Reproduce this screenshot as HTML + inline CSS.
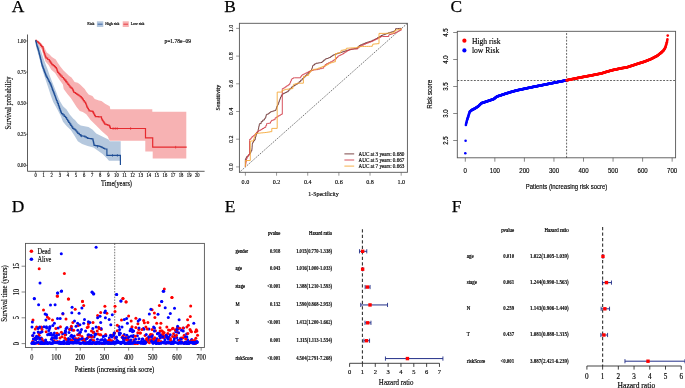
<!DOCTYPE html>
<html><head><meta charset="utf-8"><style>
html,body{margin:0;padding:0;background:#fff;}
svg{display:block;filter:blur(0.3px);}
</style></head><body>
<svg width="685" height="388" viewBox="0 0 685 388">
<rect width="685" height="388" fill="#fff"/>
<text x="11.8" y="11.7" font-family='"Liberation Serif", serif' font-size="17.4" text-anchor="start" fill="#000" stroke="#000" stroke-width="0.25">A</text>
<text x="224.3" y="11.7" font-family='"Liberation Serif", serif' font-size="17.4" text-anchor="start" fill="#000" stroke="#000" stroke-width="0.25">B</text>
<text x="450.6" y="11.9" font-family='"Liberation Serif", serif' font-size="17.4" text-anchor="start" fill="#000" stroke="#000" stroke-width="0.25">C</text>
<text x="11.8" y="212.2" font-family='"Liberation Serif", serif' font-size="17.4" text-anchor="start" fill="#000" stroke="#000" stroke-width="0.25">D</text>
<text x="224.8" y="212.2" font-family='"Liberation Serif", serif' font-size="17.4" text-anchor="start" fill="#000" stroke="#000" stroke-width="0.25">E</text>
<text x="451.8" y="212.2" font-family='"Liberation Serif", serif' font-size="17.4" text-anchor="start" fill="#000" stroke="#000" stroke-width="0.25">F</text>
<polygon points="35.2,40.6 37.7,40.8 41.6,44 44.2,47.2 46.8,52.4 49.3,54.3 51.9,56.9 55.8,59.5 57.7,62.7 60.3,66.6 63.5,70.5 68.7,75.6 70,76.6 71.5,77.4 73.1,79.7 74.6,82.1 77.7,82.8 80.1,84.4 82.4,86.7 84.7,89 86.6,92.1 88.6,94.4 92.4,96 94.7,99.1 99,100.4 101.5,101.1 105.1,103.7 109.7,106.3 110.3,109.2 152.3,109.2 152.3,111.8 186.3,111.8 186.3,158.5 152.7,158.5 152.7,151.4 145.3,151.4 145.3,140.7 109.7,140.7 107.6,136.2 101.9,131.2 96.2,125.6 90.6,119.9 86.3,114.2 82.8,112 79.8,110.9 76.6,107.1 73.4,101.9 70.8,98 67.6,94.2 63.7,89 62.9,84.6 59.6,80.1 57.1,76.2 55.1,73 51.3,69.8 48.7,65.3 45.5,61.4 43.5,55.6 41.6,49.2 36.4,42.7 35.2,41.5" fill="#f7b2b3" stroke="none"/>
<polygon points="35.4,40.8 37.5,42.5 39.5,46.5 41.5,52.5 43.5,58.5 45.5,64 47.5,69 49.5,75 51.4,80 54,86.4 56.6,92.9 58.5,98 60,101.2 63,106.3 66.6,109.4 69.7,114.6 73.4,118.7 75,119.9 77.8,123.5 80.7,125.6 88.5,127 92.7,129.8 96.2,133.4 103.3,136.9 109,139.7 109.7,141.3 120.7,141.3 120.7,160.8 109,160.8 106.9,158.2 102.6,153.9 98.4,151.1 93.4,147.5 87.7,146.1 82.1,144 77.8,141.2 75,136.5 70.8,130 66.6,125.9 63,121.8 60.5,115.6 57.4,109.4 55.5,106 53.2,101.9 50.8,95.5 48.3,87.7 45.7,80 44.4,76 42.9,71.5 41.4,66 39.9,60.5 38.5,55 37,50 35.8,45 35.4,41.8" fill="#b5c8de" stroke="none"/>
<polyline points="35.3,40.4 36.5,40.4 36.5,41.25 37.7,41.25 37.7,42.1 38.7,42.1 38.7,43.05 39.7,43.05 39.7,44 40.65,44 40.65,45.3 41.6,45.3 41.6,46.6 42.9,46.6 42.9,47.9 43.1,47.9 43.1,48.97 43.3,48.97 43.3,50.03 43.5,50.03 43.5,51.1 43.93,51.1 43.93,52.4 44.37,52.4 44.37,53.7 44.8,53.7 44.8,55 45.23,55 45.23,56.07 45.67,56.07 45.67,57.13 46.1,57.13 46.1,58.2 47.7,58.2 47.7,59.5 49.3,59.5 49.3,60.8 50.17,60.8 50.17,62.07 51.03,62.07 51.03,63.33 51.9,63.33 51.9,64.6 53.2,64.6 53.2,65.6 54.5,65.6 54.5,66.6 55.45,66.6 55.45,67.55 56.4,67.55 56.4,68.5 56.83,68.5 56.83,69.8 57.27,69.8 57.27,71.1 57.7,71.1 57.7,72.4 58.77,72.4 58.77,73.67 59.83,73.67 59.83,74.93 60.9,74.93 60.9,76.2 62.2,76.2 62.2,77.5 63.5,77.5 63.5,78.8 64.63,78.8 64.63,80.2 65.77,80.2 65.77,81.6 66.9,81.6 66.9,83 67.93,83 67.93,84.37 68.97,84.37 68.97,85.73 70,85.73 70,87.1 71.15,87.1 71.15,88.05 72.3,88.05 72.3,89 72.83,89 72.83,90.17 73.37,90.17 73.37,91.33 73.9,91.33 73.9,92.5 75.4,92.5 75.4,93.3 76.55,93.3 76.55,94.05 77.7,94.05 77.7,94.8 78.9,94.8 78.9,95.75 80.1,95.75 80.1,96.7 81.25,96.7 81.25,97.9 82.4,97.9 82.4,99.1 83.35,99.1 83.35,100.55 84.3,100.55 84.3,102 85,102 85,102.2 85.53,102.2 85.53,103.47 86.05,103.47 86.05,104.75 86.57,104.75 86.57,106.03 87.1,106.03 87.1,107.3 87.77,107.3 87.77,108.5 88.43,108.5 88.43,109.7 89.1,109.7 89.1,110.9 90.65,110.9 90.65,111.15 92.2,111.15 92.2,111.4 92.97,111.4 92.97,112.7 93.75,112.7 93.75,114 94.53,114 94.53,115.3 95.3,115.3 95.3,116.6 96.85,116.6 96.85,116.72 98.4,116.72 98.4,116.85 99.95,116.85 99.95,116.97 101.5,116.97 101.5,117.1 101.5,119 102.3,119 102.3,120.3 103.1,120.3 103.1,121.6 103.9,121.6 103.9,122.9 104.7,122.9 104.7,124.2 106.13,124.2 106.13,124.67 107.57,124.67 107.57,125.13 109,125.13 109,125.6 109.7,125.6 109.7,127.05 110.4,127.05 110.4,128.5 145.5,128.5 145.5,137.8 152.7,137.8 152.7,147.2 186.7,147.2" fill="none" stroke="#e62a2f" stroke-width="1.2" stroke-linejoin="miter"/>
<polyline points="35.4,40.6 35.8,40.6 35.8,41.4 36.12,41.4 36.12,42.7 36.45,42.7 36.45,44 36.77,44 36.77,45.3 37.1,45.3 37.1,46.6 37.53,46.6 37.53,47.9 37.97,47.9 37.97,49.2 38.4,49.2 38.4,50.5 38.73,50.5 38.73,51.77 39.05,51.77 39.05,53.05 39.38,53.05 39.38,54.33 39.7,54.33 39.7,55.6 40.03,55.6 40.03,56.9 40.35,56.9 40.35,58.2 40.67,58.2 40.67,59.5 41,59.5 41,60.8 41.3,60.8 41.3,62.08 41.6,62.08 41.6,63.35 41.9,63.35 41.9,64.62 42.2,64.62 42.2,65.9 42.7,65.9 42.7,67.2 43.2,67.2 43.2,68.5 43.7,68.5 43.7,69.8 44.2,69.8 44.2,71.1 44.68,71.1 44.68,72.38 45.15,72.38 45.15,73.65 45.62,73.65 45.62,74.92 46.1,74.92 46.1,76.2 46.8,76.2 46.8,77.47 47.5,77.47 47.5,78.73 48.2,78.73 48.2,80 48.85,80 48.85,81.3 49.5,81.3 49.5,82.6 50.15,82.6 50.15,83.9 50.8,83.9 50.8,85.2 51.27,85.2 51.27,86.47 51.75,86.47 51.75,87.75 52.23,87.75 52.23,89.03 52.7,89.03 52.7,90.3 53.2,90.3 53.2,91.6 53.7,91.6 53.7,92.9 54.2,92.9 54.2,94.2 54.7,94.2 54.7,95.5 55.15,95.5 55.15,96.75 55.6,96.75 55.6,98 56.05,98 56.05,99.25 56.5,99.25 56.5,100.5 57.13,100.5 57.13,102.1 57.77,102.1 57.77,103.7 58.4,103.7 58.4,105.3 58.93,105.3 58.93,106.87 59.47,106.87 59.47,108.43 60,108.43 60,110 60.5,110 60.5,111.2 61,111.2 61,112.4 61.5,112.4 61.5,113.6 62.87,113.6 62.87,114.97 64.23,114.97 64.23,116.33 65.6,116.33 65.6,117.7 66.62,117.7 66.62,119.25 67.65,119.25 67.65,120.8 68.67,120.8 68.67,122.35 69.7,122.35 69.7,123.9 70.7,123.9 70.7,125.37 71.7,125.37 71.7,126.83 72.7,126.83 72.7,128.3 73.85,128.3 73.85,129.05 75,129.05 75,129.8 75.93,129.8 75.93,131 76.87,131 76.87,132.2 77.8,132.2 77.8,133.4 79.25,133.4 79.25,134.6 80.7,134.6 80.7,135.8 82.1,135.8 82.1,136 83.5,136 83.5,136.2 84.9,136.2 84.9,136.9 86.3,136.9 86.3,137.6 87.7,137.6 87.7,138.3 88.95,138.3 88.95,138.48 90.2,138.48 90.2,138.65 91.45,138.65 91.45,138.82 92.7,138.82 92.7,139 92.98,139 92.98,140.28 93.26,140.28 93.26,141.56 93.54,141.56 93.54,142.84 93.82,142.84 93.82,144.12 94.1,144.12 94.1,145.4 95.52,145.4 95.52,145.68 96.95,145.68 96.95,145.95 98.38,145.95 98.38,146.22 99.8,146.22 99.8,146.5 101.03,146.5 101.03,147.12 102.25,147.12 102.25,147.75 103.47,147.75 103.47,148.38 104.7,148.38 104.7,149 106.9,149 106.9,155.4 120.4,155.4 120.4,165" fill="none" stroke="#1f4e96" stroke-width="1.2" stroke-linejoin="miter"/>
<line x1="112.5" y1="154.1" x2="112.5" y2="156.7" stroke="#1f4e96" stroke-width="0.7"/>
<line x1="117.4" y1="154.1" x2="117.4" y2="156.7" stroke="#1f4e96" stroke-width="0.7"/>
<line x1="81.5" y1="134.6" x2="81.5" y2="137.2" stroke="#1f4e96" stroke-width="0.7"/>
<line x1="97.5" y1="145.2" x2="97.5" y2="147.8" stroke="#1f4e96" stroke-width="0.7"/>
<line x1="113.1" y1="127.2" x2="113.1" y2="129.8" stroke="#e62a2f" stroke-width="0.7"/>
<line x1="115.2" y1="127.2" x2="115.2" y2="129.8" stroke="#e62a2f" stroke-width="0.7"/>
<line x1="117.2" y1="127.2" x2="117.2" y2="129.8" stroke="#e62a2f" stroke-width="0.7"/>
<line x1="130.6" y1="127.2" x2="130.6" y2="129.8" stroke="#e62a2f" stroke-width="0.7"/>
<line x1="175.6" y1="145.9" x2="175.6" y2="148.5" stroke="#e62a2f" stroke-width="0.7"/>
<line x1="66" y1="79.7" x2="66" y2="82.3" stroke="#e62a2f" stroke-width="0.7"/>
<line x1="93.5" y1="111.2" x2="93.5" y2="113.8" stroke="#e62a2f" stroke-width="0.7"/>
<line x1="27.5" y1="34.5" x2="27.5" y2="171.3" stroke="#333" stroke-width="0.8"/>
<line x1="27.5" y1="171.3" x2="204.6" y2="171.3" stroke="#333" stroke-width="0.8"/>
<line x1="26" y1="40.95" x2="27.5" y2="40.95" stroke="#222" stroke-width="0.6"/>
<text x="0" y="0" transform="translate(25.7 42.75) scale(0.86 1)" font-family='"Liberation Serif", serif' font-size="5.4" text-anchor="end" fill="#000" stroke="#000" stroke-width="0.15">1.00</text>
<line x1="26" y1="72.05" x2="27.5" y2="72.05" stroke="#222" stroke-width="0.6"/>
<text x="0" y="0" transform="translate(25.7 73.85) scale(0.86 1)" font-family='"Liberation Serif", serif' font-size="5.4" text-anchor="end" fill="#000" stroke="#000" stroke-width="0.15">0.75</text>
<line x1="26" y1="103.15" x2="27.5" y2="103.15" stroke="#222" stroke-width="0.6"/>
<text x="0" y="0" transform="translate(25.7 104.95) scale(0.86 1)" font-family='"Liberation Serif", serif' font-size="5.4" text-anchor="end" fill="#000" stroke="#000" stroke-width="0.15">0.50</text>
<line x1="26" y1="134.25" x2="27.5" y2="134.25" stroke="#222" stroke-width="0.6"/>
<text x="0" y="0" transform="translate(25.7 136.05) scale(0.86 1)" font-family='"Liberation Serif", serif' font-size="5.4" text-anchor="end" fill="#000" stroke="#000" stroke-width="0.15">0.25</text>
<line x1="26" y1="165.35" x2="27.5" y2="165.35" stroke="#222" stroke-width="0.6"/>
<text x="0" y="0" transform="translate(25.7 167.15) scale(0.86 1)" font-family='"Liberation Serif", serif' font-size="5.4" text-anchor="end" fill="#000" stroke="#000" stroke-width="0.15">0.00</text>
<line x1="35.6" y1="171.3" x2="35.6" y2="172.9" stroke="#222" stroke-width="0.6"/>
<text x="0" y="0" transform="translate(35.6 177.1) scale(0.86 1)" font-family='"Liberation Serif", serif' font-size="5.4" text-anchor="middle" fill="#000" stroke="#000" stroke-width="0.15">0</text>
<line x1="43.68" y1="171.3" x2="43.68" y2="172.9" stroke="#222" stroke-width="0.6"/>
<text x="0" y="0" transform="translate(43.68 177.1) scale(0.86 1)" font-family='"Liberation Serif", serif' font-size="5.4" text-anchor="middle" fill="#000" stroke="#000" stroke-width="0.15">1</text>
<line x1="51.76" y1="171.3" x2="51.76" y2="172.9" stroke="#222" stroke-width="0.6"/>
<text x="0" y="0" transform="translate(51.76 177.1) scale(0.86 1)" font-family='"Liberation Serif", serif' font-size="5.4" text-anchor="middle" fill="#000" stroke="#000" stroke-width="0.15">2</text>
<line x1="59.84" y1="171.3" x2="59.84" y2="172.9" stroke="#222" stroke-width="0.6"/>
<text x="0" y="0" transform="translate(59.84 177.1) scale(0.86 1)" font-family='"Liberation Serif", serif' font-size="5.4" text-anchor="middle" fill="#000" stroke="#000" stroke-width="0.15">3</text>
<line x1="67.92" y1="171.3" x2="67.92" y2="172.9" stroke="#222" stroke-width="0.6"/>
<text x="0" y="0" transform="translate(67.92 177.1) scale(0.86 1)" font-family='"Liberation Serif", serif' font-size="5.4" text-anchor="middle" fill="#000" stroke="#000" stroke-width="0.15">4</text>
<line x1="76" y1="171.3" x2="76" y2="172.9" stroke="#222" stroke-width="0.6"/>
<text x="0" y="0" transform="translate(76 177.1) scale(0.86 1)" font-family='"Liberation Serif", serif' font-size="5.4" text-anchor="middle" fill="#000" stroke="#000" stroke-width="0.15">5</text>
<line x1="84.08" y1="171.3" x2="84.08" y2="172.9" stroke="#222" stroke-width="0.6"/>
<text x="0" y="0" transform="translate(84.08 177.1) scale(0.86 1)" font-family='"Liberation Serif", serif' font-size="5.4" text-anchor="middle" fill="#000" stroke="#000" stroke-width="0.15">6</text>
<line x1="92.16" y1="171.3" x2="92.16" y2="172.9" stroke="#222" stroke-width="0.6"/>
<text x="0" y="0" transform="translate(92.16 177.1) scale(0.86 1)" font-family='"Liberation Serif", serif' font-size="5.4" text-anchor="middle" fill="#000" stroke="#000" stroke-width="0.15">7</text>
<line x1="100.24" y1="171.3" x2="100.24" y2="172.9" stroke="#222" stroke-width="0.6"/>
<text x="0" y="0" transform="translate(100.24 177.1) scale(0.86 1)" font-family='"Liberation Serif", serif' font-size="5.4" text-anchor="middle" fill="#000" stroke="#000" stroke-width="0.15">8</text>
<line x1="108.32" y1="171.3" x2="108.32" y2="172.9" stroke="#222" stroke-width="0.6"/>
<text x="0" y="0" transform="translate(108.32 177.1) scale(0.86 1)" font-family='"Liberation Serif", serif' font-size="5.4" text-anchor="middle" fill="#000" stroke="#000" stroke-width="0.15">9</text>
<line x1="116.4" y1="171.3" x2="116.4" y2="172.9" stroke="#222" stroke-width="0.6"/>
<text x="0" y="0" transform="translate(116.4 177.1) scale(0.86 1)" font-family='"Liberation Serif", serif' font-size="5.4" text-anchor="middle" fill="#000" stroke="#000" stroke-width="0.15">10</text>
<line x1="124.48" y1="171.3" x2="124.48" y2="172.9" stroke="#222" stroke-width="0.6"/>
<text x="0" y="0" transform="translate(124.48 177.1) scale(0.86 1)" font-family='"Liberation Serif", serif' font-size="5.4" text-anchor="middle" fill="#000" stroke="#000" stroke-width="0.15">11</text>
<line x1="132.56" y1="171.3" x2="132.56" y2="172.9" stroke="#222" stroke-width="0.6"/>
<text x="0" y="0" transform="translate(132.56 177.1) scale(0.86 1)" font-family='"Liberation Serif", serif' font-size="5.4" text-anchor="middle" fill="#000" stroke="#000" stroke-width="0.15">12</text>
<line x1="140.64" y1="171.3" x2="140.64" y2="172.9" stroke="#222" stroke-width="0.6"/>
<text x="0" y="0" transform="translate(140.64 177.1) scale(0.86 1)" font-family='"Liberation Serif", serif' font-size="5.4" text-anchor="middle" fill="#000" stroke="#000" stroke-width="0.15">13</text>
<line x1="148.72" y1="171.3" x2="148.72" y2="172.9" stroke="#222" stroke-width="0.6"/>
<text x="0" y="0" transform="translate(148.72 177.1) scale(0.86 1)" font-family='"Liberation Serif", serif' font-size="5.4" text-anchor="middle" fill="#000" stroke="#000" stroke-width="0.15">14</text>
<line x1="156.8" y1="171.3" x2="156.8" y2="172.9" stroke="#222" stroke-width="0.6"/>
<text x="0" y="0" transform="translate(156.8 177.1) scale(0.86 1)" font-family='"Liberation Serif", serif' font-size="5.4" text-anchor="middle" fill="#000" stroke="#000" stroke-width="0.15">15</text>
<line x1="164.88" y1="171.3" x2="164.88" y2="172.9" stroke="#222" stroke-width="0.6"/>
<text x="0" y="0" transform="translate(164.88 177.1) scale(0.86 1)" font-family='"Liberation Serif", serif' font-size="5.4" text-anchor="middle" fill="#000" stroke="#000" stroke-width="0.15">16</text>
<line x1="172.96" y1="171.3" x2="172.96" y2="172.9" stroke="#222" stroke-width="0.6"/>
<text x="0" y="0" transform="translate(172.96 177.1) scale(0.86 1)" font-family='"Liberation Serif", serif' font-size="5.4" text-anchor="middle" fill="#000" stroke="#000" stroke-width="0.15">17</text>
<line x1="181.04" y1="171.3" x2="181.04" y2="172.9" stroke="#222" stroke-width="0.6"/>
<text x="0" y="0" transform="translate(181.04 177.1) scale(0.86 1)" font-family='"Liberation Serif", serif' font-size="5.4" text-anchor="middle" fill="#000" stroke="#000" stroke-width="0.15">18</text>
<line x1="189.12" y1="171.3" x2="189.12" y2="172.9" stroke="#222" stroke-width="0.6"/>
<text x="0" y="0" transform="translate(189.12 177.1) scale(0.86 1)" font-family='"Liberation Serif", serif' font-size="5.4" text-anchor="middle" fill="#000" stroke="#000" stroke-width="0.15">19</text>
<line x1="197.2" y1="171.3" x2="197.2" y2="172.9" stroke="#222" stroke-width="0.6"/>
<text x="0" y="0" transform="translate(197.2 177.1) scale(0.86 1)" font-family='"Liberation Serif", serif' font-size="5.4" text-anchor="middle" fill="#000" stroke="#000" stroke-width="0.15">20</text>
<text x="0" y="0" transform="translate(11.3 103) rotate(-90) scale(0.8197 1)" font-family='"Liberation Serif", serif' font-size="8.052" text-anchor="middle" fill="#000" stroke="#000" stroke-width="0.15">Survival probability</text>
<text x="0" y="0" transform="translate(116.5 186.4) scale(0.8475 1)" font-family='"Liberation Serif", serif' font-size="7.552" text-anchor="middle" fill="#000" stroke="#000" stroke-width="0.15">Time(years)</text>
<text x="164.5" y="43" font-family='"Liberation Serif", serif' font-size="5.5" text-anchor="start" fill="#000" stroke="#000" stroke-width="0.15">p=1.78e&#8722;09</text>
<text x="87.3" y="25.4" font-family='"Liberation Serif", serif' font-size="3.9" text-anchor="start" fill="#000" stroke="#000" stroke-width="0.15">Risk</text>
<rect x="96.9" y="21.3" width="6.4" height="5.7" fill="#b5c8de" stroke="none" stroke-width="1"/>
<line x1="97.6" y1="24.2" x2="102.6" y2="24.2" stroke="#1f4e96" stroke-width="0.8"/>
<text x="105.2" y="25.4" font-family='"Liberation Serif", serif' font-size="3.8" text-anchor="start" fill="#000" stroke="#000" stroke-width="0.15">High risk</text>
<rect x="122.7" y="21.3" width="6.1" height="5.7" fill="#f7b2b3" stroke="none" stroke-width="1"/>
<line x1="123.4" y1="24.2" x2="128.1" y2="24.2" stroke="#e31e24" stroke-width="0.8"/>
<text x="130.8" y="25.4" font-family='"Liberation Serif", serif' font-size="3.8" text-anchor="start" fill="#000" stroke="#000" stroke-width="0.15">Low risk</text>
<rect x="239.4" y="23.3" width="168" height="149" fill="none" stroke="#555" stroke-width="0.9"/>
<line x1="239.4" y1="172.3" x2="407.4" y2="23.3" stroke="#333" stroke-width="0.7" stroke-dasharray="1.4,1.1"/>
<line x1="236.1" y1="166.9" x2="239.4" y2="166.9" stroke="#555" stroke-width="0.6"/>
<text x="0" y="0" transform="translate(232.7 166.9) rotate(-90) scale(0.8929 1)" font-family='"Liberation Serif", serif' font-size="6.832" text-anchor="middle" fill="#000" stroke="#000" stroke-width="0.15">0.0</text>
<line x1="245.4" y1="172.3" x2="245.4" y2="175.7" stroke="#555" stroke-width="0.6"/>
<text x="0" y="0" transform="translate(245.4 184) scale(0.8929 1)" font-family='"Liberation Serif", serif' font-size="6.832" text-anchor="middle" fill="#000" stroke="#000" stroke-width="0.15">0.0</text>
<line x1="236.1" y1="139.2" x2="239.4" y2="139.2" stroke="#555" stroke-width="0.6"/>
<text x="0" y="0" transform="translate(232.7 139.2) rotate(-90) scale(0.8929 1)" font-family='"Liberation Serif", serif' font-size="6.832" text-anchor="middle" fill="#000" stroke="#000" stroke-width="0.15">0.2</text>
<line x1="276.56" y1="172.3" x2="276.56" y2="175.7" stroke="#555" stroke-width="0.6"/>
<text x="0" y="0" transform="translate(276.56 184) scale(0.8929 1)" font-family='"Liberation Serif", serif' font-size="6.832" text-anchor="middle" fill="#000" stroke="#000" stroke-width="0.15">0.2</text>
<line x1="236.1" y1="111.5" x2="239.4" y2="111.5" stroke="#555" stroke-width="0.6"/>
<text x="0" y="0" transform="translate(232.7 111.5) rotate(-90) scale(0.8929 1)" font-family='"Liberation Serif", serif' font-size="6.832" text-anchor="middle" fill="#000" stroke="#000" stroke-width="0.15">0.4</text>
<line x1="307.72" y1="172.3" x2="307.72" y2="175.7" stroke="#555" stroke-width="0.6"/>
<text x="0" y="0" transform="translate(307.72 184) scale(0.8929 1)" font-family='"Liberation Serif", serif' font-size="6.832" text-anchor="middle" fill="#000" stroke="#000" stroke-width="0.15">0.4</text>
<line x1="236.1" y1="83.8" x2="239.4" y2="83.8" stroke="#555" stroke-width="0.6"/>
<text x="0" y="0" transform="translate(232.7 83.8) rotate(-90) scale(0.8929 1)" font-family='"Liberation Serif", serif' font-size="6.832" text-anchor="middle" fill="#000" stroke="#000" stroke-width="0.15">0.6</text>
<line x1="338.88" y1="172.3" x2="338.88" y2="175.7" stroke="#555" stroke-width="0.6"/>
<text x="0" y="0" transform="translate(338.88 184) scale(0.8929 1)" font-family='"Liberation Serif", serif' font-size="6.832" text-anchor="middle" fill="#000" stroke="#000" stroke-width="0.15">0.6</text>
<line x1="236.1" y1="56.1" x2="239.4" y2="56.1" stroke="#555" stroke-width="0.6"/>
<text x="0" y="0" transform="translate(232.7 56.1) rotate(-90) scale(0.8929 1)" font-family='"Liberation Serif", serif' font-size="6.832" text-anchor="middle" fill="#000" stroke="#000" stroke-width="0.15">0.8</text>
<line x1="370.04" y1="172.3" x2="370.04" y2="175.7" stroke="#555" stroke-width="0.6"/>
<text x="0" y="0" transform="translate(370.04 184) scale(0.8929 1)" font-family='"Liberation Serif", serif' font-size="6.832" text-anchor="middle" fill="#000" stroke="#000" stroke-width="0.15">0.8</text>
<line x1="236.1" y1="28.4" x2="239.4" y2="28.4" stroke="#555" stroke-width="0.6"/>
<text x="0" y="0" transform="translate(232.7 28.4) rotate(-90) scale(0.8929 1)" font-family='"Liberation Serif", serif' font-size="6.832" text-anchor="middle" fill="#000" stroke="#000" stroke-width="0.15">1.0</text>
<line x1="401.2" y1="172.3" x2="401.2" y2="175.7" stroke="#555" stroke-width="0.6"/>
<text x="0" y="0" transform="translate(401.2 184) scale(0.8929 1)" font-family='"Liberation Serif", serif' font-size="6.832" text-anchor="middle" fill="#000" stroke="#000" stroke-width="0.15">1.0</text>
<text x="323.5" y="196.2" font-family='"Liberation Serif", serif' font-size="5.9" text-anchor="middle" fill="#000" stroke="#000" stroke-width="0.15">1-Specificity</text>
<text x="220.3" y="97.6" font-family='"Liberation Serif", serif' font-size="6.0" text-anchor="middle" fill="#000" stroke="#000" stroke-width="0.15" transform="rotate(-90 220.3 97.6)">Sensitivity</text>
<polyline points="245.4,166.9 245.4,160.5 245.4,159.15 245.95,159.15 245.95,157.8 246.5,157.8 246.5,156.7 248.1,156.7 248.1,155.35 249.2,155.35 249.2,154 250.3,154 250.3,152.35 251.1,152.35 251.1,150.7 251.9,150.7 251.9,149.07 252.03,149.07 252.03,147.45 252.15,147.45 252.15,145.82 252.28,145.82 252.28,144.2 252.4,144.2 252.4,143.15 252.95,143.15 252.95,142.1 253.5,142.1 253.5,141 254.35,141 254.35,139.9 255.2,139.9 255.2,138.47 255.53,138.47 255.53,137.03 255.87,137.03 255.87,135.6 256.2,135.6 256.2,133.95 257.05,133.95 257.05,132.3 257.9,132.3 257.9,130.7 258.23,130.7 258.23,129.1 258.57,129.1 258.57,127.5 258.9,127.5 258.9,125.9 259.25,125.9 259.25,124.3 259.6,124.3 259.6,123.6 261.2,123.6 261.2,121.6 262.7,121.6 262.7,120.1 264.3,120.1 264.3,118.95 265.05,118.95 265.05,117.8 265.8,117.8 265.8,116.25 266.2,116.25 266.2,114.7 266.6,114.7 266.6,114.3 267.75,114.3 267.75,113.9 268.9,113.9 268.9,112.95 270.05,112.95 270.05,112 271.2,112 271.2,111.6 272.4,111.6 272.4,111.2 273.6,111.2 273.6,110.8 274.75,110.8 274.75,110.4 275.9,110.4 275.9,109.25 276.3,109.25 276.3,108.1 276.7,108.1 276.7,106.55 277.45,106.55 277.45,105 278.2,105 278.2,103.4 278.77,103.4 278.77,101.8 279.35,101.8 279.35,100.2 279.93,100.2 279.93,98.6 280.5,98.6 280.5,97.05 281.3,97.05 281.3,95.5 282.1,95.5 282.1,94 283.6,94 283.6,93.23 285.17,93.23 285.17,92.47 286.73,92.47 286.73,91.7 288.3,91.7 288.3,90.13 289.83,90.13 289.83,88.57 291.37,88.57 291.37,87 292.9,87 292.9,86.05 294.45,86.05 294.45,85.1 296,85.1 296,84.15 297.55,84.15 297.55,83.2 299.1,83.2 299.1,81.65 300.65,81.65 300.65,80.1 302.2,80.1 302.2,78.57 303.73,78.57 303.73,77.03 305.27,77.03 305.27,75.5 306.8,75.5 306.8,73.93 308.37,73.93 308.37,72.37 309.93,72.37 309.93,70.8 311.5,70.8 311.5,69.27 312,69.27 312,67.73 312.5,67.73 312.5,66.2 313,66.2 313,65.05 314.55,65.05 314.55,63.9 316.1,63.9 316.1,63.2 318,63.2 318,62.97 319.4,62.97 319.4,62.73 320.8,62.73 320.8,62.5 322.2,62.5 322.2,61.33 323.63,61.33 323.63,60.17 325.07,60.17 325.07,59 326.5,59 326.5,58.5 327.9,58.5 327.9,58 329.3,58 329.3,57.5 330.7,57.5 330.7,56.45 332.15,56.45 332.15,55.4 333.6,55.4 333.6,54.7 335.47,54.7 335.47,54 337.33,54 337.33,53.3 339.2,53.3 339.2,52.83 340.63,52.83 340.63,52.37 342.07,52.37 342.07,51.9 343.5,51.9 343.5,51.35 345.27,51.35 345.27,50.8 347.05,50.8 347.05,50.25 348.83,50.25 348.83,49.7 350.6,49.7 350.6,49.35 352.38,49.35 352.38,49 354.15,49 354.15,48.65 355.93,48.65 355.93,48.3 357.7,48.3 357.7,46.9 359.1,46.9 359.1,45.5 360.5,45.5 360.5,44.8 362.18,44.8 362.18,44.1 363.85,44.1 363.85,43.4 365.52,43.4 365.52,42.7 367.2,42.7 367.2,42.17 368.9,42.17 368.9,41.63 370.6,41.63 370.6,41.1 372.3,41.1 372.3,40.27 374.03,40.27 374.03,39.43 375.77,39.43 375.77,38.6 377.5,38.6 377.5,37.57 379.2,37.57 379.2,36.53 380.9,36.53 380.9,35.5 382.6,35.5 382.6,34.85 384.4,34.85 384.4,34.2 386.2,34.2 386.2,33.55 388,33.55 388,32.9 389.8,32.9 389.8,32.37 391.53,32.37 391.53,31.83 393.27,31.83 393.27,31.3 395,31.3 395,30.05 395.5,30.05 395.5,28.8 396,28.8 396,28.67 397.73,28.67 397.73,28.53 399.47,28.53 399.47,28.4 401.2,28.4" fill="none" stroke="#6e3333" stroke-width="0.9" stroke-linejoin="miter"/>
<polyline points="245.4,166.9 245.4,165.3 245.68,165.3 245.68,163.7 245.95,163.7 245.95,162.1 246.22,162.1 246.22,160.5 246.5,160.5 246.5,158.85 247.05,158.85 247.05,157.2 247.6,157.2 247.6,155.85 248.55,155.85 248.55,154.5 249.5,154.5 249.5,140.4 249.5,139.4 250.8,139.4 250.8,138.05 251.9,138.05 251.9,136.7 253,136.7 253,135.85 254.1,135.85 254.1,135 255.2,135 255.2,133.95 256,133.95 256,132.9 256.8,132.9 256.8,131.95 258.05,131.95 258.05,131 259.3,131 259.3,130.3 260.75,130.3 260.75,129.6 262.2,129.6 262.2,128.5 264,128.5 264,127.4 265.8,127.4 265.8,125.5 266.6,125.5 266.6,123.6 267.4,123.6 267.4,123.4 268.95,123.4 268.95,123.2 270.5,123.2 270.5,122.05 271.05,122.05 271.05,120.9 271.6,120.9 271.6,120.3 273.35,120.3 273.35,119.7 275.1,119.7 275.1,117.8 276.7,117.8 276.7,116.8 278.2,116.8 278.2,115.8 279.7,115.8 279.7,115.05 281,115.05 281,114.3 282.3,114.3 282.3,89.4 282.3,88.6 283.75,88.6 283.75,87.8 285.2,87.8 285.2,86.77 286.73,86.77 286.73,85.73 288.27,85.73 288.27,84.7 289.8,84.7 289.8,82.9 290.57,82.9 290.57,81.1 291.33,81.1 291.33,79.3 292.1,79.3 292.1,78.55 293.3,78.55 293.3,77.8 294.5,77.8 300.6,77.8 300.6,76.65 301.4,76.65 301.4,75.5 302.2,75.5 302.2,74.7 303.75,74.7 303.75,73.9 305.3,73.9 305.3,73.13 306.83,73.13 306.83,72.37 308.37,72.37 308.37,71.6 309.9,71.6 309.9,71.07 311.47,71.07 311.47,70.53 313.03,70.53 313.03,70 314.6,70 314.6,69.8 316.3,69.8 316.3,69.6 318,69.6 318,69.13 319.9,69.13 319.9,68.67 321.8,68.67 321.8,68.2 323.7,68.2 323.7,66.4 325.1,66.4 325.1,64.6 326.5,64.6 326.5,63.67 328.4,63.67 328.4,62.73 330.3,62.73 330.3,61.8 332.2,61.8 332.2,60.87 333.6,60.87 333.6,59.93 335,59.93 335,59 336.4,59 336.4,57.55 337.8,57.55 337.8,56.1 339.2,56.1 339.2,55.4 340.63,55.4 340.63,54.7 342.07,54.7 342.07,54 343.5,54 343.5,53.07 344.9,53.07 344.9,52.13 346.3,52.13 346.3,51.2 347.7,51.2 347.7,50.47 349.13,50.47 349.13,49.73 350.57,49.73 350.57,49 352,49 357.7,49 357.7,47.8 359.1,47.8 359.1,46.6 360.5,46.6 360.5,45.83 362.18,45.83 362.18,45.05 363.85,45.05 363.85,44.27 365.52,44.27 365.52,43.5 367.2,43.5 367.2,42.87 368.9,42.87 368.9,42.23 370.6,42.23 370.6,41.6 372.3,41.6 372.3,40.77 374.03,40.77 374.03,39.93 375.77,39.93 375.77,39.1 377.5,39.1 377.5,38.23 379.2,38.23 379.2,37.37 380.9,37.37 380.9,36.5 382.6,36.5 388.8,36.5 388.8,35 389.3,35 389.3,34.47 391.2,34.47 391.2,33.93 393.1,33.93 393.1,33.4 395,33.4 395,32.65 396.55,32.65 396.55,31.9 398.1,31.9 398.1,31.1 399.65,31.1 399.65,30.3 401.2,30.3 401.2,28.4" fill="none" stroke="#d2404c" stroke-width="0.9" stroke-linejoin="miter"/>
<polyline points="245.4,166.9 245.4,160.5 250.3,160.5 250.3,141 253.5,141 253.5,139.5 254,139.5 254,137.53 254.73,137.53 254.73,135.57 255.47,135.57 255.47,133.6 256.2,133.6 256.2,133.4 257.9,133.4 257.9,133.2 259.6,133.2 259.6,133.02 261.35,133.02 261.35,132.85 263.1,132.85 263.1,132.68 264.85,132.68 264.85,132.5 266.6,132.5 266.6,132.23 268.33,132.23 268.33,131.97 270.07,131.97 270.07,131.7 271.8,131.7 271.8,128.4 277.2,128.4 277.2,92.1 282.1,92.1 282.1,90.9 282.1,90.4 283.63,90.4 283.63,89.9 285.17,89.9 285.17,89.4 286.7,89.4 286.7,89.2 288.25,89.2 288.25,89 289.8,89 289.8,88.8 291.35,88.8 291.35,88.6 292.9,88.6 292.9,86.65 293.3,86.65 293.3,84.7 293.7,84.7 293.7,84.2 295.5,84.2 295.5,83.7 297.3,83.7 297.3,83.2 299.1,83.2 303.4,83.2 303.4,77 303.4,76.5 305.07,76.5 305.07,76 306.73,76 306.73,75.5 308.4,75.5 308.4,73.93 309.43,73.93 309.43,72.37 310.47,72.37 310.47,70.8 311.5,70.8 311.5,70.05 313.4,70.05 313.4,69.3 315.3,69.3 315.3,69.1 316.65,69.1 316.65,68.9 318,68.9 318,68.17 319.9,68.17 319.9,67.43 321.8,67.43 321.8,66.7 323.7,66.7 323.7,66 325.45,66 325.45,65.3 327.2,65.3 327.2,64.25 328.95,64.25 328.95,63.2 330.7,63.2 330.7,62.73 332.27,62.73 332.27,62.27 333.83,62.27 333.83,61.8 335.4,61.8 335.4,54 335.4,53.53 337.17,53.53 337.17,53.07 338.93,53.07 338.93,52.6 340.7,52.6 340.7,51.55 341.05,51.55 341.05,50.5 341.4,50.5 341.4,50.23 343.03,50.23 343.03,49.97 344.67,49.97 344.67,49.7 346.3,49.7 346.3,48.3 347,48.3 347,48.18 348.78,48.18 348.78,48.07 350.57,48.07 350.57,47.95 352.35,47.95 352.35,47.83 354.13,47.83 354.13,47.72 355.92,47.72 355.92,47.6 357.7,47.6 357.7,47.1 359.1,47.1 359.1,46.6 360.5,46.6 360.5,46.55 362.47,46.55 362.47,46.5 364.43,46.5 364.43,46.45 366.4,46.45 366.4,46.4 368.37,46.4 368.37,46.35 370.33,46.35 370.33,46.3 372.3,46.3 372.3,45.25 372.8,45.25 372.8,44.2 373.3,44.2 373.3,44.03 375.2,44.03 375.2,43.87 377.1,43.87 377.1,43.7 379,43.7 379,33.4 385.7,33.4 385.7,33.3 387.36,33.3 387.36,33.2 389.02,33.2 389.02,33.1 390.68,33.1 390.68,33 392.34,33 392.34,32.9 394,32.9 394,31.6 395,31.6 395,30.3 396,30.3 396,29.97 397.73,29.97 397.73,29.63 399.47,29.63 399.47,29.3 401.2,29.3 401.2,28.4" fill="none" stroke="#f5a93a" stroke-width="0.9" stroke-linejoin="miter"/>
<line x1="344.4" y1="153.9" x2="354.2" y2="153.9" stroke="#6e3333" stroke-width="0.9"/>
<text x="358.6" y="155.6" font-family='"Liberation Serif", serif' font-size="5.1" text-anchor="start" fill="#000" stroke="#000" stroke-width="0.15">AUC at 3 years: 0.680</text>
<line x1="344.4" y1="160" x2="354.2" y2="160" stroke="#d2404c" stroke-width="0.9"/>
<text x="358.6" y="161.7" font-family='"Liberation Serif", serif' font-size="5.1" text-anchor="start" fill="#000" stroke="#000" stroke-width="0.15">AUC at 5 years: 0.667</text>
<line x1="344.4" y1="166.1" x2="354.2" y2="166.1" stroke="#f5a93a" stroke-width="0.9"/>
<text x="358.6" y="167.8" font-family='"Liberation Serif", serif' font-size="5.1" text-anchor="start" fill="#000" stroke="#000" stroke-width="0.15">AUC at 7 years: 0.663</text>
<rect x="457.3" y="31.3" width="218.3" height="126.5" fill="none" stroke="#555" stroke-width="0.9"/>
<line x1="453.2" y1="140.5" x2="457.3" y2="140.5" stroke="#555" stroke-width="0.7"/>
<text x="0" y="0" transform="translate(447.9 140.5) rotate(-90) scale(0.8475 1)" font-family='"Liberation Sans", sans-serif' font-size="7.198" text-anchor="middle" fill="#000" stroke="#000" stroke-width="0.15">2.5</text>
<line x1="453.2" y1="113.5" x2="457.3" y2="113.5" stroke="#555" stroke-width="0.7"/>
<text x="0" y="0" transform="translate(447.9 113.5) rotate(-90) scale(0.8475 1)" font-family='"Liberation Sans", sans-serif' font-size="7.198" text-anchor="middle" fill="#000" stroke="#000" stroke-width="0.15">3.0</text>
<line x1="453.2" y1="86.5" x2="457.3" y2="86.5" stroke="#555" stroke-width="0.7"/>
<text x="0" y="0" transform="translate(447.9 86.5) rotate(-90) scale(0.8475 1)" font-family='"Liberation Sans", sans-serif' font-size="7.198" text-anchor="middle" fill="#000" stroke="#000" stroke-width="0.15">3.5</text>
<line x1="453.2" y1="59.5" x2="457.3" y2="59.5" stroke="#555" stroke-width="0.7"/>
<text x="0" y="0" transform="translate(447.9 59.5) rotate(-90) scale(0.8475 1)" font-family='"Liberation Sans", sans-serif' font-size="7.198" text-anchor="middle" fill="#000" stroke="#000" stroke-width="0.15">4.0</text>
<line x1="453.2" y1="32.5" x2="457.3" y2="32.5" stroke="#555" stroke-width="0.7"/>
<text x="0" y="0" transform="translate(447.9 32.5) rotate(-90) scale(0.8475 1)" font-family='"Liberation Sans", sans-serif' font-size="7.198" text-anchor="middle" fill="#000" stroke="#000" stroke-width="0.15">4.5</text>
<line x1="465.3" y1="157.8" x2="465.3" y2="161.7" stroke="#555" stroke-width="0.7"/>
<text x="0" y="0" transform="translate(465.3 173.3) scale(0.8475 1)" font-family='"Liberation Sans", sans-serif' font-size="7.198" text-anchor="middle" fill="#000" stroke="#000" stroke-width="0.15">0</text>
<line x1="494.85" y1="157.8" x2="494.85" y2="161.7" stroke="#555" stroke-width="0.7"/>
<text x="0" y="0" transform="translate(494.85 173.3) scale(0.8475 1)" font-family='"Liberation Sans", sans-serif' font-size="7.198" text-anchor="middle" fill="#000" stroke="#000" stroke-width="0.15">100</text>
<line x1="524.4" y1="157.8" x2="524.4" y2="161.7" stroke="#555" stroke-width="0.7"/>
<text x="0" y="0" transform="translate(524.4 173.3) scale(0.8475 1)" font-family='"Liberation Sans", sans-serif' font-size="7.198" text-anchor="middle" fill="#000" stroke="#000" stroke-width="0.15">200</text>
<line x1="553.95" y1="157.8" x2="553.95" y2="161.7" stroke="#555" stroke-width="0.7"/>
<text x="0" y="0" transform="translate(553.95 173.3) scale(0.8475 1)" font-family='"Liberation Sans", sans-serif' font-size="7.198" text-anchor="middle" fill="#000" stroke="#000" stroke-width="0.15">300</text>
<line x1="583.5" y1="157.8" x2="583.5" y2="161.7" stroke="#555" stroke-width="0.7"/>
<text x="0" y="0" transform="translate(583.5 173.3) scale(0.8475 1)" font-family='"Liberation Sans", sans-serif' font-size="7.198" text-anchor="middle" fill="#000" stroke="#000" stroke-width="0.15">400</text>
<line x1="613.05" y1="157.8" x2="613.05" y2="161.7" stroke="#555" stroke-width="0.7"/>
<text x="0" y="0" transform="translate(613.05 173.3) scale(0.8475 1)" font-family='"Liberation Sans", sans-serif' font-size="7.198" text-anchor="middle" fill="#000" stroke="#000" stroke-width="0.15">500</text>
<line x1="642.6" y1="157.8" x2="642.6" y2="161.7" stroke="#555" stroke-width="0.7"/>
<text x="0" y="0" transform="translate(642.6 173.3) scale(0.8475 1)" font-family='"Liberation Sans", sans-serif' font-size="7.198" text-anchor="middle" fill="#000" stroke="#000" stroke-width="0.15">600</text>
<line x1="672.15" y1="157.8" x2="672.15" y2="161.7" stroke="#555" stroke-width="0.7"/>
<text x="0" y="0" transform="translate(672.15 173.3) scale(0.8475 1)" font-family='"Liberation Sans", sans-serif' font-size="7.198" text-anchor="middle" fill="#000" stroke="#000" stroke-width="0.15">700</text>
<text x="0" y="0" transform="translate(432.3 94.3) rotate(-90) scale(0.8475 1)" font-family='"Liberation Sans", sans-serif' font-size="7.316" text-anchor="middle" fill="#000" stroke="#000" stroke-width="0.15">Risk score</text>
<text x="0" y="0" transform="translate(566.5 188.9) scale(0.8475 1)" font-family='"Liberation Sans", sans-serif' font-size="7.045" text-anchor="middle" fill="#000" stroke="#000" stroke-width="0.15">Patients (increasing risk socre)</text>
<line x1="457.3" y1="80.5" x2="675.6" y2="80.5" stroke="#333" stroke-width="0.75" stroke-dasharray="1.9,1.42"/>
<line x1="566.6" y1="31.3" x2="566.6" y2="157.8" stroke="#333" stroke-width="0.75" stroke-dasharray="1.9,1.42" stroke-dashoffset="1.57"/>
<circle cx="465.3" cy="153.2" r="1.3" fill="#0000ff"/>
<circle cx="465.6" cy="140.8" r="1.3" fill="#0000ff"/>
<circle cx="465.89" cy="124.9" r="1.3" fill="#0000ff"/>
<circle cx="466.19" cy="123.6" r="1.3" fill="#0000ff"/>
<circle cx="466.48" cy="122.3" r="1.3" fill="#0000ff"/>
<circle cx="466.78" cy="121" r="1.3" fill="#0000ff"/>
<circle cx="467.07" cy="120.08" r="1.3" fill="#0000ff"/>
<circle cx="467.37" cy="119.16" r="1.3" fill="#0000ff"/>
<circle cx="467.66" cy="118.24" r="1.3" fill="#0000ff"/>
<circle cx="467.96" cy="117.32" r="1.3" fill="#0000ff"/>
<circle cx="468.25" cy="116.4" r="1.3" fill="#0000ff"/>
<circle cx="468.55" cy="115.46" r="1.3" fill="#0000ff"/>
<circle cx="468.85" cy="114.52" r="1.3" fill="#0000ff"/>
<circle cx="469.14" cy="113.58" r="1.3" fill="#0000ff"/>
<circle cx="469.44" cy="112.64" r="1.3" fill="#0000ff"/>
<circle cx="469.73" cy="111.7" r="1.3" fill="#0000ff"/>
<circle cx="470.03" cy="111.48" r="1.3" fill="#0000ff"/>
<circle cx="470.32" cy="111.25" r="1.3" fill="#0000ff"/>
<circle cx="470.62" cy="111.03" r="1.3" fill="#0000ff"/>
<circle cx="470.91" cy="110.8" r="1.3" fill="#0000ff"/>
<circle cx="471.21" cy="110.58" r="1.3" fill="#0000ff"/>
<circle cx="471.51" cy="110.35" r="1.3" fill="#0000ff"/>
<circle cx="471.8" cy="110.12" r="1.3" fill="#0000ff"/>
<circle cx="472.1" cy="109.9" r="1.3" fill="#0000ff"/>
<circle cx="472.39" cy="109.75" r="1.3" fill="#0000ff"/>
<circle cx="472.69" cy="109.6" r="1.3" fill="#0000ff"/>
<circle cx="472.98" cy="109.44" r="1.3" fill="#0000ff"/>
<circle cx="473.28" cy="109.29" r="1.3" fill="#0000ff"/>
<circle cx="473.57" cy="109.14" r="1.3" fill="#0000ff"/>
<circle cx="473.87" cy="108.99" r="1.3" fill="#0000ff"/>
<circle cx="474.17" cy="108.83" r="1.3" fill="#0000ff"/>
<circle cx="474.46" cy="108.68" r="1.3" fill="#0000ff"/>
<circle cx="474.76" cy="108.53" r="1.3" fill="#0000ff"/>
<circle cx="475.05" cy="108.38" r="1.3" fill="#0000ff"/>
<circle cx="475.35" cy="108.2" r="1.3" fill="#0000ff"/>
<circle cx="475.64" cy="108.01" r="1.3" fill="#0000ff"/>
<circle cx="475.94" cy="107.82" r="1.3" fill="#0000ff"/>
<circle cx="476.23" cy="107.63" r="1.3" fill="#0000ff"/>
<circle cx="476.53" cy="107.44" r="1.3" fill="#0000ff"/>
<circle cx="476.82" cy="107.25" r="1.3" fill="#0000ff"/>
<circle cx="477.12" cy="107.06" r="1.3" fill="#0000ff"/>
<circle cx="477.42" cy="106.87" r="1.3" fill="#0000ff"/>
<circle cx="477.71" cy="106.68" r="1.3" fill="#0000ff"/>
<circle cx="478.01" cy="106.49" r="1.3" fill="#0000ff"/>
<circle cx="478.3" cy="106.3" r="1.3" fill="#0000ff"/>
<circle cx="478.6" cy="106" r="1.3" fill="#0000ff"/>
<circle cx="478.89" cy="105.71" r="1.3" fill="#0000ff"/>
<circle cx="479.19" cy="105.41" r="1.3" fill="#0000ff"/>
<circle cx="479.48" cy="105.12" r="1.3" fill="#0000ff"/>
<circle cx="479.78" cy="104.82" r="1.3" fill="#0000ff"/>
<circle cx="480.07" cy="104.53" r="1.3" fill="#0000ff"/>
<circle cx="480.37" cy="104.23" r="1.3" fill="#0000ff"/>
<circle cx="480.67" cy="103.94" r="1.3" fill="#0000ff"/>
<circle cx="480.96" cy="103.64" r="1.3" fill="#0000ff"/>
<circle cx="481.26" cy="103.35" r="1.3" fill="#0000ff"/>
<circle cx="481.55" cy="103.15" r="1.3" fill="#0000ff"/>
<circle cx="481.85" cy="103.05" r="1.3" fill="#0000ff"/>
<circle cx="482.14" cy="102.96" r="1.3" fill="#0000ff"/>
<circle cx="482.44" cy="102.86" r="1.3" fill="#0000ff"/>
<circle cx="482.73" cy="102.76" r="1.3" fill="#0000ff"/>
<circle cx="483.03" cy="102.67" r="1.3" fill="#0000ff"/>
<circle cx="483.33" cy="102.57" r="1.3" fill="#0000ff"/>
<circle cx="483.62" cy="102.47" r="1.3" fill="#0000ff"/>
<circle cx="483.92" cy="102.38" r="1.3" fill="#0000ff"/>
<circle cx="484.21" cy="102.28" r="1.3" fill="#0000ff"/>
<circle cx="484.51" cy="102.18" r="1.3" fill="#0000ff"/>
<circle cx="484.8" cy="102.09" r="1.3" fill="#0000ff"/>
<circle cx="485.1" cy="101.99" r="1.3" fill="#0000ff"/>
<circle cx="485.39" cy="101.89" r="1.3" fill="#0000ff"/>
<circle cx="485.69" cy="101.8" r="1.3" fill="#0000ff"/>
<circle cx="485.99" cy="101.7" r="1.3" fill="#0000ff"/>
<circle cx="486.28" cy="101.6" r="1.3" fill="#0000ff"/>
<circle cx="486.58" cy="101.5" r="1.3" fill="#0000ff"/>
<circle cx="486.87" cy="101.4" r="1.3" fill="#0000ff"/>
<circle cx="487.17" cy="101.3" r="1.3" fill="#0000ff"/>
<circle cx="487.46" cy="101.2" r="1.3" fill="#0000ff"/>
<circle cx="487.76" cy="101.1" r="1.3" fill="#0000ff"/>
<circle cx="488.05" cy="101" r="1.3" fill="#0000ff"/>
<circle cx="488.35" cy="100.9" r="1.3" fill="#0000ff"/>
<circle cx="488.64" cy="100.8" r="1.3" fill="#0000ff"/>
<circle cx="488.94" cy="100.7" r="1.3" fill="#0000ff"/>
<circle cx="489.24" cy="100.6" r="1.3" fill="#0000ff"/>
<circle cx="489.53" cy="100.5" r="1.3" fill="#0000ff"/>
<circle cx="489.83" cy="100.4" r="1.3" fill="#0000ff"/>
<circle cx="490.12" cy="100.3" r="1.3" fill="#0000ff"/>
<circle cx="490.42" cy="100.2" r="1.3" fill="#0000ff"/>
<circle cx="490.71" cy="100.1" r="1.3" fill="#0000ff"/>
<circle cx="491.01" cy="100" r="1.3" fill="#0000ff"/>
<circle cx="491.3" cy="99.9" r="1.3" fill="#0000ff"/>
<circle cx="491.6" cy="99.8" r="1.3" fill="#0000ff"/>
<circle cx="491.89" cy="99.7" r="1.3" fill="#0000ff"/>
<circle cx="492.19" cy="99.6" r="1.3" fill="#0000ff"/>
<circle cx="492.49" cy="99.5" r="1.3" fill="#0000ff"/>
<circle cx="492.78" cy="99.4" r="1.3" fill="#0000ff"/>
<circle cx="493.08" cy="99.3" r="1.3" fill="#0000ff"/>
<circle cx="493.37" cy="99.2" r="1.3" fill="#0000ff"/>
<circle cx="493.67" cy="99.1" r="1.3" fill="#0000ff"/>
<circle cx="493.96" cy="98.86" r="1.3" fill="#0000ff"/>
<circle cx="494.26" cy="98.63" r="1.3" fill="#0000ff"/>
<circle cx="494.55" cy="98.39" r="1.3" fill="#0000ff"/>
<circle cx="494.85" cy="98.16" r="1.3" fill="#0000ff"/>
<circle cx="495.15" cy="97.92" r="1.3" fill="#0000ff"/>
<circle cx="495.44" cy="97.68" r="1.3" fill="#0000ff"/>
<circle cx="495.74" cy="97.45" r="1.3" fill="#0000ff"/>
<circle cx="496.03" cy="97.21" r="1.3" fill="#0000ff"/>
<circle cx="496.33" cy="96.98" r="1.3" fill="#0000ff"/>
<circle cx="496.62" cy="96.74" r="1.3" fill="#0000ff"/>
<circle cx="496.92" cy="96.56" r="1.3" fill="#0000ff"/>
<circle cx="497.21" cy="96.46" r="1.3" fill="#0000ff"/>
<circle cx="497.51" cy="96.36" r="1.3" fill="#0000ff"/>
<circle cx="497.81" cy="96.27" r="1.3" fill="#0000ff"/>
<circle cx="498.1" cy="96.17" r="1.3" fill="#0000ff"/>
<circle cx="498.4" cy="96.07" r="1.3" fill="#0000ff"/>
<circle cx="498.69" cy="95.97" r="1.3" fill="#0000ff"/>
<circle cx="498.99" cy="95.87" r="1.3" fill="#0000ff"/>
<circle cx="499.28" cy="95.77" r="1.3" fill="#0000ff"/>
<circle cx="499.58" cy="95.67" r="1.3" fill="#0000ff"/>
<circle cx="499.87" cy="95.58" r="1.3" fill="#0000ff"/>
<circle cx="500.17" cy="95.48" r="1.3" fill="#0000ff"/>
<circle cx="500.46" cy="95.38" r="1.3" fill="#0000ff"/>
<circle cx="500.76" cy="95.28" r="1.3" fill="#0000ff"/>
<circle cx="501.06" cy="95.18" r="1.3" fill="#0000ff"/>
<circle cx="501.35" cy="95.08" r="1.3" fill="#0000ff"/>
<circle cx="501.65" cy="94.98" r="1.3" fill="#0000ff"/>
<circle cx="501.94" cy="94.89" r="1.3" fill="#0000ff"/>
<circle cx="502.24" cy="94.79" r="1.3" fill="#0000ff"/>
<circle cx="502.53" cy="94.69" r="1.3" fill="#0000ff"/>
<circle cx="502.83" cy="94.59" r="1.3" fill="#0000ff"/>
<circle cx="503.12" cy="94.49" r="1.3" fill="#0000ff"/>
<circle cx="503.42" cy="94.39" r="1.3" fill="#0000ff"/>
<circle cx="503.72" cy="94.3" r="1.3" fill="#0000ff"/>
<circle cx="504.01" cy="94.2" r="1.3" fill="#0000ff"/>
<circle cx="504.31" cy="94.1" r="1.3" fill="#0000ff"/>
<circle cx="504.6" cy="94" r="1.3" fill="#0000ff"/>
<circle cx="504.9" cy="93.91" r="1.3" fill="#0000ff"/>
<circle cx="505.19" cy="93.82" r="1.3" fill="#0000ff"/>
<circle cx="505.49" cy="93.72" r="1.3" fill="#0000ff"/>
<circle cx="505.78" cy="93.63" r="1.3" fill="#0000ff"/>
<circle cx="506.08" cy="93.54" r="1.3" fill="#0000ff"/>
<circle cx="506.37" cy="93.45" r="1.3" fill="#0000ff"/>
<circle cx="506.67" cy="93.35" r="1.3" fill="#0000ff"/>
<circle cx="506.97" cy="93.26" r="1.3" fill="#0000ff"/>
<circle cx="507.26" cy="93.17" r="1.3" fill="#0000ff"/>
<circle cx="507.56" cy="93.08" r="1.3" fill="#0000ff"/>
<circle cx="507.85" cy="92.98" r="1.3" fill="#0000ff"/>
<circle cx="508.15" cy="92.89" r="1.3" fill="#0000ff"/>
<circle cx="508.44" cy="92.8" r="1.3" fill="#0000ff"/>
<circle cx="508.74" cy="92.71" r="1.3" fill="#0000ff"/>
<circle cx="509.03" cy="92.62" r="1.3" fill="#0000ff"/>
<circle cx="509.33" cy="92.52" r="1.3" fill="#0000ff"/>
<circle cx="509.62" cy="92.43" r="1.3" fill="#0000ff"/>
<circle cx="509.92" cy="92.34" r="1.3" fill="#0000ff"/>
<circle cx="510.22" cy="92.25" r="1.3" fill="#0000ff"/>
<circle cx="510.51" cy="92.15" r="1.3" fill="#0000ff"/>
<circle cx="510.81" cy="92.06" r="1.3" fill="#0000ff"/>
<circle cx="511.1" cy="91.97" r="1.3" fill="#0000ff"/>
<circle cx="511.4" cy="91.88" r="1.3" fill="#0000ff"/>
<circle cx="511.69" cy="91.78" r="1.3" fill="#0000ff"/>
<circle cx="511.99" cy="91.69" r="1.3" fill="#0000ff"/>
<circle cx="512.28" cy="91.6" r="1.3" fill="#0000ff"/>
<circle cx="512.58" cy="91.52" r="1.3" fill="#0000ff"/>
<circle cx="512.88" cy="91.45" r="1.3" fill="#0000ff"/>
<circle cx="513.17" cy="91.38" r="1.3" fill="#0000ff"/>
<circle cx="513.47" cy="91.3" r="1.3" fill="#0000ff"/>
<circle cx="513.76" cy="91.22" r="1.3" fill="#0000ff"/>
<circle cx="514.06" cy="91.15" r="1.3" fill="#0000ff"/>
<circle cx="514.35" cy="91.07" r="1.3" fill="#0000ff"/>
<circle cx="514.65" cy="91" r="1.3" fill="#0000ff"/>
<circle cx="514.94" cy="90.92" r="1.3" fill="#0000ff"/>
<circle cx="515.24" cy="90.85" r="1.3" fill="#0000ff"/>
<circle cx="515.53" cy="90.77" r="1.3" fill="#0000ff"/>
<circle cx="515.83" cy="90.7" r="1.3" fill="#0000ff"/>
<circle cx="516.13" cy="90.62" r="1.3" fill="#0000ff"/>
<circle cx="516.42" cy="90.55" r="1.3" fill="#0000ff"/>
<circle cx="516.72" cy="90.47" r="1.3" fill="#0000ff"/>
<circle cx="517.01" cy="90.4" r="1.3" fill="#0000ff"/>
<circle cx="517.31" cy="90.32" r="1.3" fill="#0000ff"/>
<circle cx="517.6" cy="90.25" r="1.3" fill="#0000ff"/>
<circle cx="517.9" cy="90.17" r="1.3" fill="#0000ff"/>
<circle cx="518.19" cy="90.1" r="1.3" fill="#0000ff"/>
<circle cx="518.49" cy="90.04" r="1.3" fill="#0000ff"/>
<circle cx="518.79" cy="89.97" r="1.3" fill="#0000ff"/>
<circle cx="519.08" cy="89.91" r="1.3" fill="#0000ff"/>
<circle cx="519.38" cy="89.85" r="1.3" fill="#0000ff"/>
<circle cx="519.67" cy="89.78" r="1.3" fill="#0000ff"/>
<circle cx="519.97" cy="89.72" r="1.3" fill="#0000ff"/>
<circle cx="520.26" cy="89.66" r="1.3" fill="#0000ff"/>
<circle cx="520.56" cy="89.59" r="1.3" fill="#0000ff"/>
<circle cx="520.85" cy="89.53" r="1.3" fill="#0000ff"/>
<circle cx="521.15" cy="89.47" r="1.3" fill="#0000ff"/>
<circle cx="521.45" cy="89.4" r="1.3" fill="#0000ff"/>
<circle cx="521.74" cy="89.34" r="1.3" fill="#0000ff"/>
<circle cx="522.04" cy="89.28" r="1.3" fill="#0000ff"/>
<circle cx="522.33" cy="89.21" r="1.3" fill="#0000ff"/>
<circle cx="522.63" cy="89.15" r="1.3" fill="#0000ff"/>
<circle cx="522.92" cy="89.09" r="1.3" fill="#0000ff"/>
<circle cx="523.22" cy="89.02" r="1.3" fill="#0000ff"/>
<circle cx="523.51" cy="88.96" r="1.3" fill="#0000ff"/>
<circle cx="523.81" cy="88.9" r="1.3" fill="#0000ff"/>
<circle cx="524.1" cy="88.83" r="1.3" fill="#0000ff"/>
<circle cx="524.4" cy="88.77" r="1.3" fill="#0000ff"/>
<circle cx="524.7" cy="88.7" r="1.3" fill="#0000ff"/>
<circle cx="524.99" cy="88.64" r="1.3" fill="#0000ff"/>
<circle cx="525.29" cy="88.58" r="1.3" fill="#0000ff"/>
<circle cx="525.58" cy="88.51" r="1.3" fill="#0000ff"/>
<circle cx="525.88" cy="88.45" r="1.3" fill="#0000ff"/>
<circle cx="526.17" cy="88.39" r="1.3" fill="#0000ff"/>
<circle cx="526.47" cy="88.32" r="1.3" fill="#0000ff"/>
<circle cx="526.76" cy="88.26" r="1.3" fill="#0000ff"/>
<circle cx="527.06" cy="88.2" r="1.3" fill="#0000ff"/>
<circle cx="527.36" cy="88.13" r="1.3" fill="#0000ff"/>
<circle cx="527.65" cy="88.07" r="1.3" fill="#0000ff"/>
<circle cx="527.95" cy="88.01" r="1.3" fill="#0000ff"/>
<circle cx="528.24" cy="87.94" r="1.3" fill="#0000ff"/>
<circle cx="528.54" cy="87.88" r="1.3" fill="#0000ff"/>
<circle cx="528.83" cy="87.82" r="1.3" fill="#0000ff"/>
<circle cx="529.13" cy="87.75" r="1.3" fill="#0000ff"/>
<circle cx="529.42" cy="87.69" r="1.3" fill="#0000ff"/>
<circle cx="529.72" cy="87.63" r="1.3" fill="#0000ff"/>
<circle cx="530.01" cy="87.56" r="1.3" fill="#0000ff"/>
<circle cx="530.31" cy="87.5" r="1.3" fill="#0000ff"/>
<circle cx="530.61" cy="87.44" r="1.3" fill="#0000ff"/>
<circle cx="530.9" cy="87.38" r="1.3" fill="#0000ff"/>
<circle cx="531.2" cy="87.32" r="1.3" fill="#0000ff"/>
<circle cx="531.49" cy="87.27" r="1.3" fill="#0000ff"/>
<circle cx="531.79" cy="87.21" r="1.3" fill="#0000ff"/>
<circle cx="532.08" cy="87.15" r="1.3" fill="#0000ff"/>
<circle cx="532.38" cy="87.09" r="1.3" fill="#0000ff"/>
<circle cx="532.67" cy="87.03" r="1.3" fill="#0000ff"/>
<circle cx="532.97" cy="86.97" r="1.3" fill="#0000ff"/>
<circle cx="533.26" cy="86.92" r="1.3" fill="#0000ff"/>
<circle cx="533.56" cy="86.86" r="1.3" fill="#0000ff"/>
<circle cx="533.86" cy="86.8" r="1.3" fill="#0000ff"/>
<circle cx="534.15" cy="86.74" r="1.3" fill="#0000ff"/>
<circle cx="534.45" cy="86.68" r="1.3" fill="#0000ff"/>
<circle cx="534.74" cy="86.62" r="1.3" fill="#0000ff"/>
<circle cx="535.04" cy="86.56" r="1.3" fill="#0000ff"/>
<circle cx="535.33" cy="86.51" r="1.3" fill="#0000ff"/>
<circle cx="535.63" cy="86.45" r="1.3" fill="#0000ff"/>
<circle cx="535.92" cy="86.39" r="1.3" fill="#0000ff"/>
<circle cx="536.22" cy="86.33" r="1.3" fill="#0000ff"/>
<circle cx="536.52" cy="86.27" r="1.3" fill="#0000ff"/>
<circle cx="536.81" cy="86.21" r="1.3" fill="#0000ff"/>
<circle cx="537.11" cy="86.15" r="1.3" fill="#0000ff"/>
<circle cx="537.4" cy="86.1" r="1.3" fill="#0000ff"/>
<circle cx="537.7" cy="86.04" r="1.3" fill="#0000ff"/>
<circle cx="537.99" cy="85.98" r="1.3" fill="#0000ff"/>
<circle cx="538.29" cy="85.92" r="1.3" fill="#0000ff"/>
<circle cx="538.58" cy="85.86" r="1.3" fill="#0000ff"/>
<circle cx="538.88" cy="85.8" r="1.3" fill="#0000ff"/>
<circle cx="539.17" cy="85.75" r="1.3" fill="#0000ff"/>
<circle cx="539.47" cy="85.69" r="1.3" fill="#0000ff"/>
<circle cx="539.77" cy="85.63" r="1.3" fill="#0000ff"/>
<circle cx="540.06" cy="85.57" r="1.3" fill="#0000ff"/>
<circle cx="540.36" cy="85.51" r="1.3" fill="#0000ff"/>
<circle cx="540.65" cy="85.45" r="1.3" fill="#0000ff"/>
<circle cx="540.95" cy="85.39" r="1.3" fill="#0000ff"/>
<circle cx="541.24" cy="85.34" r="1.3" fill="#0000ff"/>
<circle cx="541.54" cy="85.28" r="1.3" fill="#0000ff"/>
<circle cx="541.83" cy="85.22" r="1.3" fill="#0000ff"/>
<circle cx="542.13" cy="85.16" r="1.3" fill="#0000ff"/>
<circle cx="542.43" cy="85.1" r="1.3" fill="#0000ff"/>
<circle cx="542.72" cy="85.04" r="1.3" fill="#0000ff"/>
<circle cx="543.02" cy="84.98" r="1.3" fill="#0000ff"/>
<circle cx="543.31" cy="84.93" r="1.3" fill="#0000ff"/>
<circle cx="543.61" cy="84.87" r="1.3" fill="#0000ff"/>
<circle cx="543.9" cy="84.81" r="1.3" fill="#0000ff"/>
<circle cx="544.2" cy="84.75" r="1.3" fill="#0000ff"/>
<circle cx="544.49" cy="84.69" r="1.3" fill="#0000ff"/>
<circle cx="544.79" cy="84.63" r="1.3" fill="#0000ff"/>
<circle cx="545.09" cy="84.58" r="1.3" fill="#0000ff"/>
<circle cx="545.38" cy="84.52" r="1.3" fill="#0000ff"/>
<circle cx="545.68" cy="84.46" r="1.3" fill="#0000ff"/>
<circle cx="545.97" cy="84.4" r="1.3" fill="#0000ff"/>
<circle cx="546.27" cy="84.34" r="1.3" fill="#0000ff"/>
<circle cx="546.56" cy="84.28" r="1.3" fill="#0000ff"/>
<circle cx="546.86" cy="84.22" r="1.3" fill="#0000ff"/>
<circle cx="547.15" cy="84.16" r="1.3" fill="#0000ff"/>
<circle cx="547.45" cy="84.1" r="1.3" fill="#0000ff"/>
<circle cx="547.74" cy="84.04" r="1.3" fill="#0000ff"/>
<circle cx="548.04" cy="83.98" r="1.3" fill="#0000ff"/>
<circle cx="548.34" cy="83.92" r="1.3" fill="#0000ff"/>
<circle cx="548.63" cy="83.86" r="1.3" fill="#0000ff"/>
<circle cx="548.93" cy="83.8" r="1.3" fill="#0000ff"/>
<circle cx="549.22" cy="83.74" r="1.3" fill="#0000ff"/>
<circle cx="549.52" cy="83.68" r="1.3" fill="#0000ff"/>
<circle cx="549.81" cy="83.62" r="1.3" fill="#0000ff"/>
<circle cx="550.11" cy="83.57" r="1.3" fill="#0000ff"/>
<circle cx="550.4" cy="83.51" r="1.3" fill="#0000ff"/>
<circle cx="550.7" cy="83.45" r="1.3" fill="#0000ff"/>
<circle cx="551" cy="83.39" r="1.3" fill="#0000ff"/>
<circle cx="551.29" cy="83.33" r="1.3" fill="#0000ff"/>
<circle cx="551.59" cy="83.27" r="1.3" fill="#0000ff"/>
<circle cx="551.88" cy="83.21" r="1.3" fill="#0000ff"/>
<circle cx="552.18" cy="83.15" r="1.3" fill="#0000ff"/>
<circle cx="552.47" cy="83.09" r="1.3" fill="#0000ff"/>
<circle cx="552.77" cy="83.03" r="1.3" fill="#0000ff"/>
<circle cx="553.06" cy="82.97" r="1.3" fill="#0000ff"/>
<circle cx="553.36" cy="82.91" r="1.3" fill="#0000ff"/>
<circle cx="553.65" cy="82.85" r="1.3" fill="#0000ff"/>
<circle cx="553.95" cy="82.79" r="1.3" fill="#0000ff"/>
<circle cx="554.25" cy="82.73" r="1.3" fill="#0000ff"/>
<circle cx="554.54" cy="82.67" r="1.3" fill="#0000ff"/>
<circle cx="554.84" cy="82.61" r="1.3" fill="#0000ff"/>
<circle cx="555.13" cy="82.55" r="1.3" fill="#0000ff"/>
<circle cx="555.43" cy="82.49" r="1.3" fill="#0000ff"/>
<circle cx="555.72" cy="82.43" r="1.3" fill="#0000ff"/>
<circle cx="556.02" cy="82.37" r="1.3" fill="#0000ff"/>
<circle cx="556.31" cy="82.31" r="1.3" fill="#0000ff"/>
<circle cx="556.61" cy="82.25" r="1.3" fill="#0000ff"/>
<circle cx="556.9" cy="82.19" r="1.3" fill="#0000ff"/>
<circle cx="557.2" cy="82.13" r="1.3" fill="#0000ff"/>
<circle cx="557.5" cy="82.08" r="1.3" fill="#0000ff"/>
<circle cx="557.79" cy="82.02" r="1.3" fill="#0000ff"/>
<circle cx="558.09" cy="81.96" r="1.3" fill="#0000ff"/>
<circle cx="558.38" cy="81.9" r="1.3" fill="#0000ff"/>
<circle cx="558.68" cy="81.84" r="1.3" fill="#0000ff"/>
<circle cx="558.97" cy="81.78" r="1.3" fill="#0000ff"/>
<circle cx="559.27" cy="81.72" r="1.3" fill="#0000ff"/>
<circle cx="559.56" cy="81.66" r="1.3" fill="#0000ff"/>
<circle cx="559.86" cy="81.6" r="1.3" fill="#0000ff"/>
<circle cx="560.16" cy="81.54" r="1.3" fill="#0000ff"/>
<circle cx="560.45" cy="81.48" r="1.3" fill="#0000ff"/>
<circle cx="560.75" cy="81.42" r="1.3" fill="#0000ff"/>
<circle cx="561.04" cy="81.36" r="1.3" fill="#0000ff"/>
<circle cx="561.34" cy="81.3" r="1.3" fill="#0000ff"/>
<circle cx="561.63" cy="81.24" r="1.3" fill="#0000ff"/>
<circle cx="561.93" cy="81.19" r="1.3" fill="#0000ff"/>
<circle cx="562.22" cy="81.13" r="1.3" fill="#0000ff"/>
<circle cx="562.52" cy="81.08" r="1.3" fill="#0000ff"/>
<circle cx="562.82" cy="81.02" r="1.3" fill="#0000ff"/>
<circle cx="563.11" cy="80.97" r="1.3" fill="#0000ff"/>
<circle cx="563.41" cy="80.91" r="1.3" fill="#0000ff"/>
<circle cx="563.7" cy="80.86" r="1.3" fill="#0000ff"/>
<circle cx="564" cy="80.8" r="1.3" fill="#0000ff"/>
<circle cx="564.29" cy="80.74" r="1.3" fill="#0000ff"/>
<circle cx="564.59" cy="80.69" r="1.3" fill="#0000ff"/>
<circle cx="564.88" cy="80.63" r="1.3" fill="#0000ff"/>
<circle cx="565.18" cy="80.58" r="1.3" fill="#0000ff"/>
<circle cx="565.47" cy="80.52" r="1.3" fill="#0000ff"/>
<circle cx="565.77" cy="80.47" r="1.3" fill="#0000ff"/>
<circle cx="566.07" cy="80.41" r="1.3" fill="#0000ff"/>
<circle cx="566.36" cy="80.36" r="1.3" fill="#0000ff"/>
<circle cx="566.66" cy="80.3" r="1.3" fill="#ff0000"/>
<circle cx="566.95" cy="80.24" r="1.3" fill="#ff0000"/>
<circle cx="567.25" cy="80.17" r="1.3" fill="#ff0000"/>
<circle cx="567.54" cy="80.11" r="1.3" fill="#ff0000"/>
<circle cx="567.84" cy="80.04" r="1.3" fill="#ff0000"/>
<circle cx="568.13" cy="79.98" r="1.3" fill="#ff0000"/>
<circle cx="568.43" cy="79.91" r="1.3" fill="#ff0000"/>
<circle cx="568.73" cy="79.85" r="1.3" fill="#ff0000"/>
<circle cx="569.02" cy="79.79" r="1.3" fill="#ff0000"/>
<circle cx="569.32" cy="79.72" r="1.3" fill="#ff0000"/>
<circle cx="569.61" cy="79.66" r="1.3" fill="#ff0000"/>
<circle cx="569.91" cy="79.59" r="1.3" fill="#ff0000"/>
<circle cx="570.2" cy="79.53" r="1.3" fill="#ff0000"/>
<circle cx="570.5" cy="79.46" r="1.3" fill="#ff0000"/>
<circle cx="570.79" cy="79.4" r="1.3" fill="#ff0000"/>
<circle cx="571.09" cy="79.34" r="1.3" fill="#ff0000"/>
<circle cx="571.38" cy="79.28" r="1.3" fill="#ff0000"/>
<circle cx="571.68" cy="79.22" r="1.3" fill="#ff0000"/>
<circle cx="571.98" cy="79.16" r="1.3" fill="#ff0000"/>
<circle cx="572.27" cy="79.1" r="1.3" fill="#ff0000"/>
<circle cx="572.57" cy="79.04" r="1.3" fill="#ff0000"/>
<circle cx="572.86" cy="78.98" r="1.3" fill="#ff0000"/>
<circle cx="573.16" cy="78.93" r="1.3" fill="#ff0000"/>
<circle cx="573.45" cy="78.87" r="1.3" fill="#ff0000"/>
<circle cx="573.75" cy="78.81" r="1.3" fill="#ff0000"/>
<circle cx="574.04" cy="78.75" r="1.3" fill="#ff0000"/>
<circle cx="574.34" cy="78.69" r="1.3" fill="#ff0000"/>
<circle cx="574.63" cy="78.63" r="1.3" fill="#ff0000"/>
<circle cx="574.93" cy="78.57" r="1.3" fill="#ff0000"/>
<circle cx="575.23" cy="78.51" r="1.3" fill="#ff0000"/>
<circle cx="575.52" cy="78.45" r="1.3" fill="#ff0000"/>
<circle cx="575.82" cy="78.39" r="1.3" fill="#ff0000"/>
<circle cx="576.11" cy="78.33" r="1.3" fill="#ff0000"/>
<circle cx="576.41" cy="78.27" r="1.3" fill="#ff0000"/>
<circle cx="576.7" cy="78.21" r="1.3" fill="#ff0000"/>
<circle cx="577" cy="78.15" r="1.3" fill="#ff0000"/>
<circle cx="577.29" cy="78.09" r="1.3" fill="#ff0000"/>
<circle cx="577.59" cy="78.03" r="1.3" fill="#ff0000"/>
<circle cx="577.89" cy="77.97" r="1.3" fill="#ff0000"/>
<circle cx="578.18" cy="77.92" r="1.3" fill="#ff0000"/>
<circle cx="578.48" cy="77.86" r="1.3" fill="#ff0000"/>
<circle cx="578.77" cy="77.8" r="1.3" fill="#ff0000"/>
<circle cx="579.07" cy="77.74" r="1.3" fill="#ff0000"/>
<circle cx="579.36" cy="77.68" r="1.3" fill="#ff0000"/>
<circle cx="579.66" cy="77.62" r="1.3" fill="#ff0000"/>
<circle cx="579.95" cy="77.56" r="1.3" fill="#ff0000"/>
<circle cx="580.25" cy="77.5" r="1.3" fill="#ff0000"/>
<circle cx="580.54" cy="77.44" r="1.3" fill="#ff0000"/>
<circle cx="580.84" cy="77.39" r="1.3" fill="#ff0000"/>
<circle cx="581.14" cy="77.33" r="1.3" fill="#ff0000"/>
<circle cx="581.43" cy="77.28" r="1.3" fill="#ff0000"/>
<circle cx="581.73" cy="77.22" r="1.3" fill="#ff0000"/>
<circle cx="582.02" cy="77.17" r="1.3" fill="#ff0000"/>
<circle cx="582.32" cy="77.11" r="1.3" fill="#ff0000"/>
<circle cx="582.61" cy="77.06" r="1.3" fill="#ff0000"/>
<circle cx="582.91" cy="77" r="1.3" fill="#ff0000"/>
<circle cx="583.2" cy="76.95" r="1.3" fill="#ff0000"/>
<circle cx="583.5" cy="76.89" r="1.3" fill="#ff0000"/>
<circle cx="583.8" cy="76.84" r="1.3" fill="#ff0000"/>
<circle cx="584.09" cy="76.78" r="1.3" fill="#ff0000"/>
<circle cx="584.39" cy="76.73" r="1.3" fill="#ff0000"/>
<circle cx="584.68" cy="76.67" r="1.3" fill="#ff0000"/>
<circle cx="584.98" cy="76.62" r="1.3" fill="#ff0000"/>
<circle cx="585.27" cy="76.56" r="1.3" fill="#ff0000"/>
<circle cx="585.57" cy="76.51" r="1.3" fill="#ff0000"/>
<circle cx="585.86" cy="76.45" r="1.3" fill="#ff0000"/>
<circle cx="586.16" cy="76.39" r="1.3" fill="#ff0000"/>
<circle cx="586.46" cy="76.34" r="1.3" fill="#ff0000"/>
<circle cx="586.75" cy="76.28" r="1.3" fill="#ff0000"/>
<circle cx="587.05" cy="76.23" r="1.3" fill="#ff0000"/>
<circle cx="587.34" cy="76.17" r="1.3" fill="#ff0000"/>
<circle cx="587.64" cy="76.12" r="1.3" fill="#ff0000"/>
<circle cx="587.93" cy="76.06" r="1.3" fill="#ff0000"/>
<circle cx="588.23" cy="76.01" r="1.3" fill="#ff0000"/>
<circle cx="588.52" cy="75.95" r="1.3" fill="#ff0000"/>
<circle cx="588.82" cy="75.9" r="1.3" fill="#ff0000"/>
<circle cx="589.11" cy="75.84" r="1.3" fill="#ff0000"/>
<circle cx="589.41" cy="75.79" r="1.3" fill="#ff0000"/>
<circle cx="589.71" cy="75.73" r="1.3" fill="#ff0000"/>
<circle cx="590" cy="75.68" r="1.3" fill="#ff0000"/>
<circle cx="590.3" cy="75.62" r="1.3" fill="#ff0000"/>
<circle cx="590.59" cy="75.57" r="1.3" fill="#ff0000"/>
<circle cx="590.89" cy="75.51" r="1.3" fill="#ff0000"/>
<circle cx="591.18" cy="75.46" r="1.3" fill="#ff0000"/>
<circle cx="591.48" cy="75.4" r="1.3" fill="#ff0000"/>
<circle cx="591.77" cy="75.34" r="1.3" fill="#ff0000"/>
<circle cx="592.07" cy="75.28" r="1.3" fill="#ff0000"/>
<circle cx="592.37" cy="75.22" r="1.3" fill="#ff0000"/>
<circle cx="592.66" cy="75.16" r="1.3" fill="#ff0000"/>
<circle cx="592.96" cy="75.11" r="1.3" fill="#ff0000"/>
<circle cx="593.25" cy="75.05" r="1.3" fill="#ff0000"/>
<circle cx="593.55" cy="74.99" r="1.3" fill="#ff0000"/>
<circle cx="593.84" cy="74.93" r="1.3" fill="#ff0000"/>
<circle cx="594.14" cy="74.87" r="1.3" fill="#ff0000"/>
<circle cx="594.43" cy="74.81" r="1.3" fill="#ff0000"/>
<circle cx="594.73" cy="74.75" r="1.3" fill="#ff0000"/>
<circle cx="595.02" cy="74.69" r="1.3" fill="#ff0000"/>
<circle cx="595.32" cy="74.64" r="1.3" fill="#ff0000"/>
<circle cx="595.62" cy="74.58" r="1.3" fill="#ff0000"/>
<circle cx="595.91" cy="74.52" r="1.3" fill="#ff0000"/>
<circle cx="596.21" cy="74.46" r="1.3" fill="#ff0000"/>
<circle cx="596.5" cy="74.4" r="1.3" fill="#ff0000"/>
<circle cx="596.8" cy="74.34" r="1.3" fill="#ff0000"/>
<circle cx="597.09" cy="74.28" r="1.3" fill="#ff0000"/>
<circle cx="597.39" cy="74.22" r="1.3" fill="#ff0000"/>
<circle cx="597.68" cy="74.16" r="1.3" fill="#ff0000"/>
<circle cx="597.98" cy="74.11" r="1.3" fill="#ff0000"/>
<circle cx="598.27" cy="74.05" r="1.3" fill="#ff0000"/>
<circle cx="598.57" cy="73.99" r="1.3" fill="#ff0000"/>
<circle cx="598.87" cy="73.93" r="1.3" fill="#ff0000"/>
<circle cx="599.16" cy="73.87" r="1.3" fill="#ff0000"/>
<circle cx="599.46" cy="73.81" r="1.3" fill="#ff0000"/>
<circle cx="599.75" cy="73.75" r="1.3" fill="#ff0000"/>
<circle cx="600.05" cy="73.69" r="1.3" fill="#ff0000"/>
<circle cx="600.34" cy="73.64" r="1.3" fill="#ff0000"/>
<circle cx="600.64" cy="73.58" r="1.3" fill="#ff0000"/>
<circle cx="600.93" cy="73.52" r="1.3" fill="#ff0000"/>
<circle cx="601.23" cy="73.46" r="1.3" fill="#ff0000"/>
<circle cx="601.53" cy="73.4" r="1.3" fill="#ff0000"/>
<circle cx="601.82" cy="73.31" r="1.3" fill="#ff0000"/>
<circle cx="602.12" cy="73.21" r="1.3" fill="#ff0000"/>
<circle cx="602.41" cy="73.12" r="1.3" fill="#ff0000"/>
<circle cx="602.71" cy="73.02" r="1.3" fill="#ff0000"/>
<circle cx="603" cy="72.93" r="1.3" fill="#ff0000"/>
<circle cx="603.3" cy="72.84" r="1.3" fill="#ff0000"/>
<circle cx="603.59" cy="72.74" r="1.3" fill="#ff0000"/>
<circle cx="603.89" cy="72.65" r="1.3" fill="#ff0000"/>
<circle cx="604.18" cy="72.55" r="1.3" fill="#ff0000"/>
<circle cx="604.48" cy="72.46" r="1.3" fill="#ff0000"/>
<circle cx="604.78" cy="72.36" r="1.3" fill="#ff0000"/>
<circle cx="605.07" cy="72.27" r="1.3" fill="#ff0000"/>
<circle cx="605.37" cy="72.18" r="1.3" fill="#ff0000"/>
<circle cx="605.66" cy="72.08" r="1.3" fill="#ff0000"/>
<circle cx="605.96" cy="71.99" r="1.3" fill="#ff0000"/>
<circle cx="606.25" cy="71.89" r="1.3" fill="#ff0000"/>
<circle cx="606.55" cy="71.8" r="1.3" fill="#ff0000"/>
<circle cx="606.84" cy="71.72" r="1.3" fill="#ff0000"/>
<circle cx="607.14" cy="71.63" r="1.3" fill="#ff0000"/>
<circle cx="607.44" cy="71.55" r="1.3" fill="#ff0000"/>
<circle cx="607.73" cy="71.47" r="1.3" fill="#ff0000"/>
<circle cx="608.03" cy="71.38" r="1.3" fill="#ff0000"/>
<circle cx="608.32" cy="71.3" r="1.3" fill="#ff0000"/>
<circle cx="608.62" cy="71.22" r="1.3" fill="#ff0000"/>
<circle cx="608.91" cy="71.13" r="1.3" fill="#ff0000"/>
<circle cx="609.21" cy="71.05" r="1.3" fill="#ff0000"/>
<circle cx="609.5" cy="70.97" r="1.3" fill="#ff0000"/>
<circle cx="609.8" cy="70.88" r="1.3" fill="#ff0000"/>
<circle cx="610.1" cy="70.8" r="1.3" fill="#ff0000"/>
<circle cx="610.39" cy="70.72" r="1.3" fill="#ff0000"/>
<circle cx="610.69" cy="70.63" r="1.3" fill="#ff0000"/>
<circle cx="610.98" cy="70.55" r="1.3" fill="#ff0000"/>
<circle cx="611.28" cy="70.47" r="1.3" fill="#ff0000"/>
<circle cx="611.57" cy="70.38" r="1.3" fill="#ff0000"/>
<circle cx="611.87" cy="70.3" r="1.3" fill="#ff0000"/>
<circle cx="612.16" cy="70.24" r="1.3" fill="#ff0000"/>
<circle cx="612.46" cy="70.17" r="1.3" fill="#ff0000"/>
<circle cx="612.75" cy="70.11" r="1.3" fill="#ff0000"/>
<circle cx="613.05" cy="70.05" r="1.3" fill="#ff0000"/>
<circle cx="613.35" cy="69.98" r="1.3" fill="#ff0000"/>
<circle cx="613.64" cy="69.92" r="1.3" fill="#ff0000"/>
<circle cx="613.94" cy="69.85" r="1.3" fill="#ff0000"/>
<circle cx="614.23" cy="69.79" r="1.3" fill="#ff0000"/>
<circle cx="614.53" cy="69.73" r="1.3" fill="#ff0000"/>
<circle cx="614.82" cy="69.66" r="1.3" fill="#ff0000"/>
<circle cx="615.12" cy="69.6" r="1.3" fill="#ff0000"/>
<circle cx="615.41" cy="69.54" r="1.3" fill="#ff0000"/>
<circle cx="615.71" cy="69.47" r="1.3" fill="#ff0000"/>
<circle cx="616" cy="69.41" r="1.3" fill="#ff0000"/>
<circle cx="616.3" cy="69.35" r="1.3" fill="#ff0000"/>
<circle cx="616.6" cy="69.28" r="1.3" fill="#ff0000"/>
<circle cx="616.89" cy="69.22" r="1.3" fill="#ff0000"/>
<circle cx="617.19" cy="69.15" r="1.3" fill="#ff0000"/>
<circle cx="617.48" cy="69.09" r="1.3" fill="#ff0000"/>
<circle cx="617.78" cy="69.03" r="1.3" fill="#ff0000"/>
<circle cx="618.07" cy="68.96" r="1.3" fill="#ff0000"/>
<circle cx="618.37" cy="68.9" r="1.3" fill="#ff0000"/>
<circle cx="618.66" cy="68.84" r="1.3" fill="#ff0000"/>
<circle cx="618.96" cy="68.77" r="1.3" fill="#ff0000"/>
<circle cx="619.26" cy="68.71" r="1.3" fill="#ff0000"/>
<circle cx="619.55" cy="68.65" r="1.3" fill="#ff0000"/>
<circle cx="619.85" cy="68.58" r="1.3" fill="#ff0000"/>
<circle cx="620.14" cy="68.52" r="1.3" fill="#ff0000"/>
<circle cx="620.44" cy="68.45" r="1.3" fill="#ff0000"/>
<circle cx="620.73" cy="68.39" r="1.3" fill="#ff0000"/>
<circle cx="621.03" cy="68.33" r="1.3" fill="#ff0000"/>
<circle cx="621.32" cy="68.26" r="1.3" fill="#ff0000"/>
<circle cx="621.62" cy="68.2" r="1.3" fill="#ff0000"/>
<circle cx="621.91" cy="68.16" r="1.3" fill="#ff0000"/>
<circle cx="622.21" cy="68.11" r="1.3" fill="#ff0000"/>
<circle cx="622.51" cy="68.07" r="1.3" fill="#ff0000"/>
<circle cx="622.8" cy="68.03" r="1.3" fill="#ff0000"/>
<circle cx="623.1" cy="67.98" r="1.3" fill="#ff0000"/>
<circle cx="623.39" cy="67.94" r="1.3" fill="#ff0000"/>
<circle cx="623.69" cy="67.89" r="1.3" fill="#ff0000"/>
<circle cx="623.98" cy="67.85" r="1.3" fill="#ff0000"/>
<circle cx="624.28" cy="67.81" r="1.3" fill="#ff0000"/>
<circle cx="624.57" cy="67.76" r="1.3" fill="#ff0000"/>
<circle cx="624.87" cy="67.72" r="1.3" fill="#ff0000"/>
<circle cx="625.17" cy="67.67" r="1.3" fill="#ff0000"/>
<circle cx="625.46" cy="67.63" r="1.3" fill="#ff0000"/>
<circle cx="625.76" cy="67.59" r="1.3" fill="#ff0000"/>
<circle cx="626.05" cy="67.54" r="1.3" fill="#ff0000"/>
<circle cx="626.35" cy="67.5" r="1.3" fill="#ff0000"/>
<circle cx="626.64" cy="67.41" r="1.3" fill="#ff0000"/>
<circle cx="626.94" cy="67.31" r="1.3" fill="#ff0000"/>
<circle cx="627.23" cy="67.22" r="1.3" fill="#ff0000"/>
<circle cx="627.53" cy="67.12" r="1.3" fill="#ff0000"/>
<circle cx="627.83" cy="67.03" r="1.3" fill="#ff0000"/>
<circle cx="628.12" cy="66.93" r="1.3" fill="#ff0000"/>
<circle cx="628.42" cy="66.83" r="1.3" fill="#ff0000"/>
<circle cx="628.71" cy="66.74" r="1.3" fill="#ff0000"/>
<circle cx="629.01" cy="66.64" r="1.3" fill="#ff0000"/>
<circle cx="629.3" cy="66.55" r="1.3" fill="#ff0000"/>
<circle cx="629.6" cy="66.45" r="1.3" fill="#ff0000"/>
<circle cx="629.89" cy="66.36" r="1.3" fill="#ff0000"/>
<circle cx="630.19" cy="66.27" r="1.3" fill="#ff0000"/>
<circle cx="630.48" cy="66.17" r="1.3" fill="#ff0000"/>
<circle cx="630.78" cy="66.07" r="1.3" fill="#ff0000"/>
<circle cx="631.08" cy="65.98" r="1.3" fill="#ff0000"/>
<circle cx="631.37" cy="65.88" r="1.3" fill="#ff0000"/>
<circle cx="631.67" cy="65.79" r="1.3" fill="#ff0000"/>
<circle cx="631.96" cy="65.69" r="1.3" fill="#ff0000"/>
<circle cx="632.26" cy="65.6" r="1.3" fill="#ff0000"/>
<circle cx="632.55" cy="65.5" r="1.3" fill="#ff0000"/>
<circle cx="632.85" cy="65.4" r="1.3" fill="#ff0000"/>
<circle cx="633.14" cy="65.3" r="1.3" fill="#ff0000"/>
<circle cx="633.44" cy="65.2" r="1.3" fill="#ff0000"/>
<circle cx="633.74" cy="65.1" r="1.3" fill="#ff0000"/>
<circle cx="634.03" cy="65" r="1.3" fill="#ff0000"/>
<circle cx="634.33" cy="64.9" r="1.3" fill="#ff0000"/>
<circle cx="634.62" cy="64.8" r="1.3" fill="#ff0000"/>
<circle cx="634.92" cy="64.7" r="1.3" fill="#ff0000"/>
<circle cx="635.21" cy="64.6" r="1.3" fill="#ff0000"/>
<circle cx="635.51" cy="64.5" r="1.3" fill="#ff0000"/>
<circle cx="635.8" cy="64.4" r="1.3" fill="#ff0000"/>
<circle cx="636.1" cy="64.3" r="1.3" fill="#ff0000"/>
<circle cx="636.39" cy="64.2" r="1.3" fill="#ff0000"/>
<circle cx="636.69" cy="64.1" r="1.3" fill="#ff0000"/>
<circle cx="636.99" cy="64" r="1.3" fill="#ff0000"/>
<circle cx="637.28" cy="63.9" r="1.3" fill="#ff0000"/>
<circle cx="637.58" cy="63.8" r="1.3" fill="#ff0000"/>
<circle cx="637.87" cy="63.7" r="1.3" fill="#ff0000"/>
<circle cx="638.17" cy="63.61" r="1.3" fill="#ff0000"/>
<circle cx="638.46" cy="63.52" r="1.3" fill="#ff0000"/>
<circle cx="638.76" cy="63.43" r="1.3" fill="#ff0000"/>
<circle cx="639.05" cy="63.34" r="1.3" fill="#ff0000"/>
<circle cx="639.35" cy="63.25" r="1.3" fill="#ff0000"/>
<circle cx="639.64" cy="63.15" r="1.3" fill="#ff0000"/>
<circle cx="639.94" cy="63.06" r="1.3" fill="#ff0000"/>
<circle cx="640.24" cy="62.97" r="1.3" fill="#ff0000"/>
<circle cx="640.53" cy="62.88" r="1.3" fill="#ff0000"/>
<circle cx="640.83" cy="62.79" r="1.3" fill="#ff0000"/>
<circle cx="641.12" cy="62.7" r="1.3" fill="#ff0000"/>
<circle cx="641.42" cy="62.61" r="1.3" fill="#ff0000"/>
<circle cx="641.71" cy="62.52" r="1.3" fill="#ff0000"/>
<circle cx="642.01" cy="62.43" r="1.3" fill="#ff0000"/>
<circle cx="642.3" cy="62.34" r="1.3" fill="#ff0000"/>
<circle cx="642.6" cy="62.25" r="1.3" fill="#ff0000"/>
<circle cx="642.9" cy="62.15" r="1.3" fill="#ff0000"/>
<circle cx="643.19" cy="62.06" r="1.3" fill="#ff0000"/>
<circle cx="643.49" cy="61.97" r="1.3" fill="#ff0000"/>
<circle cx="643.78" cy="61.88" r="1.3" fill="#ff0000"/>
<circle cx="644.08" cy="61.79" r="1.3" fill="#ff0000"/>
<circle cx="644.37" cy="61.7" r="1.3" fill="#ff0000"/>
<circle cx="644.67" cy="61.58" r="1.3" fill="#ff0000"/>
<circle cx="644.96" cy="61.46" r="1.3" fill="#ff0000"/>
<circle cx="645.26" cy="61.35" r="1.3" fill="#ff0000"/>
<circle cx="645.56" cy="61.23" r="1.3" fill="#ff0000"/>
<circle cx="645.85" cy="61.11" r="1.3" fill="#ff0000"/>
<circle cx="646.15" cy="60.99" r="1.3" fill="#ff0000"/>
<circle cx="646.44" cy="60.87" r="1.3" fill="#ff0000"/>
<circle cx="646.74" cy="60.75" r="1.3" fill="#ff0000"/>
<circle cx="647.03" cy="60.64" r="1.3" fill="#ff0000"/>
<circle cx="647.33" cy="60.52" r="1.3" fill="#ff0000"/>
<circle cx="647.62" cy="60.4" r="1.3" fill="#ff0000"/>
<circle cx="647.92" cy="60.28" r="1.3" fill="#ff0000"/>
<circle cx="648.21" cy="60.16" r="1.3" fill="#ff0000"/>
<circle cx="648.51" cy="60.05" r="1.3" fill="#ff0000"/>
<circle cx="648.81" cy="59.93" r="1.3" fill="#ff0000"/>
<circle cx="649.1" cy="59.81" r="1.3" fill="#ff0000"/>
<circle cx="649.4" cy="59.69" r="1.3" fill="#ff0000"/>
<circle cx="649.69" cy="59.57" r="1.3" fill="#ff0000"/>
<circle cx="649.99" cy="59.45" r="1.3" fill="#ff0000"/>
<circle cx="650.28" cy="59.34" r="1.3" fill="#ff0000"/>
<circle cx="650.58" cy="59.22" r="1.3" fill="#ff0000"/>
<circle cx="650.87" cy="59.1" r="1.3" fill="#ff0000"/>
<circle cx="651.17" cy="58.95" r="1.3" fill="#ff0000"/>
<circle cx="651.47" cy="58.8" r="1.3" fill="#ff0000"/>
<circle cx="651.76" cy="58.64" r="1.3" fill="#ff0000"/>
<circle cx="652.06" cy="58.49" r="1.3" fill="#ff0000"/>
<circle cx="652.35" cy="58.34" r="1.3" fill="#ff0000"/>
<circle cx="652.65" cy="58.19" r="1.3" fill="#ff0000"/>
<circle cx="652.94" cy="58.03" r="1.3" fill="#ff0000"/>
<circle cx="653.24" cy="57.88" r="1.3" fill="#ff0000"/>
<circle cx="653.53" cy="57.73" r="1.3" fill="#ff0000"/>
<circle cx="653.83" cy="57.58" r="1.3" fill="#ff0000"/>
<circle cx="654.12" cy="57.42" r="1.3" fill="#ff0000"/>
<circle cx="654.42" cy="57.27" r="1.3" fill="#ff0000"/>
<circle cx="654.72" cy="57.12" r="1.3" fill="#ff0000"/>
<circle cx="655.01" cy="56.97" r="1.3" fill="#ff0000"/>
<circle cx="655.31" cy="56.81" r="1.3" fill="#ff0000"/>
<circle cx="655.6" cy="56.66" r="1.3" fill="#ff0000"/>
<circle cx="655.9" cy="56.51" r="1.3" fill="#ff0000"/>
<circle cx="656.19" cy="56.36" r="1.3" fill="#ff0000"/>
<circle cx="656.49" cy="56.2" r="1.3" fill="#ff0000"/>
<circle cx="656.78" cy="56.05" r="1.3" fill="#ff0000"/>
<circle cx="657.08" cy="55.9" r="1.3" fill="#ff0000"/>
<circle cx="657.38" cy="55.67" r="1.3" fill="#ff0000"/>
<circle cx="657.67" cy="55.44" r="1.3" fill="#ff0000"/>
<circle cx="657.97" cy="55.21" r="1.3" fill="#ff0000"/>
<circle cx="658.26" cy="54.98" r="1.3" fill="#ff0000"/>
<circle cx="658.56" cy="54.75" r="1.3" fill="#ff0000"/>
<circle cx="658.85" cy="54.52" r="1.3" fill="#ff0000"/>
<circle cx="659.15" cy="54.28" r="1.3" fill="#ff0000"/>
<circle cx="659.44" cy="54.05" r="1.3" fill="#ff0000"/>
<circle cx="659.74" cy="53.82" r="1.3" fill="#ff0000"/>
<circle cx="660.03" cy="53.59" r="1.3" fill="#ff0000"/>
<circle cx="660.33" cy="53.36" r="1.3" fill="#ff0000"/>
<circle cx="660.63" cy="53.13" r="1.3" fill="#ff0000"/>
<circle cx="660.92" cy="52.9" r="1.3" fill="#ff0000"/>
<circle cx="661.22" cy="52.64" r="1.3" fill="#ff0000"/>
<circle cx="661.51" cy="52.38" r="1.3" fill="#ff0000"/>
<circle cx="661.81" cy="52.11" r="1.3" fill="#ff0000"/>
<circle cx="662.1" cy="51.85" r="1.3" fill="#ff0000"/>
<circle cx="662.4" cy="51.59" r="1.3" fill="#ff0000"/>
<circle cx="662.69" cy="51.32" r="1.3" fill="#ff0000"/>
<circle cx="662.99" cy="51.06" r="1.3" fill="#ff0000"/>
<circle cx="663.28" cy="50.8" r="1.3" fill="#ff0000"/>
<circle cx="663.58" cy="50.36" r="1.3" fill="#ff0000"/>
<circle cx="663.88" cy="49.92" r="1.3" fill="#ff0000"/>
<circle cx="664.17" cy="49.48" r="1.3" fill="#ff0000"/>
<circle cx="664.47" cy="49.04" r="1.3" fill="#ff0000"/>
<circle cx="664.76" cy="48.6" r="1.3" fill="#ff0000"/>
<circle cx="665.06" cy="47.93" r="1.3" fill="#ff0000"/>
<circle cx="665.35" cy="47.27" r="1.3" fill="#ff0000"/>
<circle cx="665.65" cy="46.6" r="1.3" fill="#ff0000"/>
<circle cx="665.94" cy="45.6" r="1.3" fill="#ff0000"/>
<circle cx="666.24" cy="44.6" r="1.3" fill="#ff0000"/>
<circle cx="666.54" cy="43.4" r="1.3" fill="#ff0000"/>
<circle cx="666.83" cy="42.2" r="1.3" fill="#ff0000"/>
<circle cx="667.13" cy="40.9" r="1.3" fill="#ff0000"/>
<circle cx="667.42" cy="39.4" r="1.3" fill="#ff0000"/>
<circle cx="667.72" cy="35.6" r="1.3" fill="#ff0000"/>
<circle cx="464.4" cy="40.7" r="2.1" fill="#ff0000"/>
<circle cx="464.4" cy="50.4" r="2.1" fill="#0000ff"/>
<text x="0" y="0" transform="translate(471.9 43.8) scale(0.8929 1)" font-family='"Liberation Serif", serif' font-size="8.568" text-anchor="start" fill="#000" stroke="#000" stroke-width="0.15">High risk</text>
<text x="0" y="0" transform="translate(471.9 52.9) scale(0.8929 1)" font-family='"Liberation Serif", serif' font-size="8.568" text-anchor="start" fill="#000" stroke="#000" stroke-width="0.15">low Risk</text>
<rect x="25.5" y="243.4" width="178.9" height="104.1" fill="none" stroke="#555" stroke-width="0.9"/>
<line x1="21.6" y1="343.6" x2="25.5" y2="343.6" stroke="#555" stroke-width="0.7"/>
<text x="0" y="0" transform="translate(18.5 343.6) rotate(-90) scale(0.8696 1)" font-family='"Liberation Serif", serif' font-size="7.245" text-anchor="middle" fill="#000" stroke="#000" stroke-width="0.15">0</text>
<line x1="21.6" y1="317.8" x2="25.5" y2="317.8" stroke="#555" stroke-width="0.7"/>
<text x="0" y="0" transform="translate(18.5 317.8) rotate(-90) scale(0.8696 1)" font-family='"Liberation Serif", serif' font-size="7.245" text-anchor="middle" fill="#000" stroke="#000" stroke-width="0.15">5</text>
<line x1="21.6" y1="292" x2="25.5" y2="292" stroke="#555" stroke-width="0.7"/>
<text x="0" y="0" transform="translate(18.5 292) rotate(-90) scale(0.8696 1)" font-family='"Liberation Serif", serif' font-size="7.245" text-anchor="middle" fill="#000" stroke="#000" stroke-width="0.15">10</text>
<line x1="21.6" y1="266.2" x2="25.5" y2="266.2" stroke="#555" stroke-width="0.7"/>
<text x="0" y="0" transform="translate(18.5 266.2) rotate(-90) scale(0.8696 1)" font-family='"Liberation Serif", serif' font-size="7.245" text-anchor="middle" fill="#000" stroke="#000" stroke-width="0.15">15</text>
<line x1="31.9" y1="347.5" x2="31.9" y2="350.6" stroke="#555" stroke-width="0.7"/>
<text x="0" y="0" transform="translate(31.9 359.9) scale(0.8696 1)" font-family='"Liberation Serif", serif' font-size="7.245" text-anchor="middle" fill="#000" stroke="#000" stroke-width="0.15">0</text>
<line x1="56.08" y1="347.5" x2="56.08" y2="350.6" stroke="#555" stroke-width="0.7"/>
<text x="0" y="0" transform="translate(56.08 359.9) scale(0.8696 1)" font-family='"Liberation Serif", serif' font-size="7.245" text-anchor="middle" fill="#000" stroke="#000" stroke-width="0.15">100</text>
<line x1="80.26" y1="347.5" x2="80.26" y2="350.6" stroke="#555" stroke-width="0.7"/>
<text x="0" y="0" transform="translate(80.26 359.9) scale(0.8696 1)" font-family='"Liberation Serif", serif' font-size="7.245" text-anchor="middle" fill="#000" stroke="#000" stroke-width="0.15">200</text>
<line x1="104.44" y1="347.5" x2="104.44" y2="350.6" stroke="#555" stroke-width="0.7"/>
<text x="0" y="0" transform="translate(104.44 359.9) scale(0.8696 1)" font-family='"Liberation Serif", serif' font-size="7.245" text-anchor="middle" fill="#000" stroke="#000" stroke-width="0.15">300</text>
<line x1="128.62" y1="347.5" x2="128.62" y2="350.6" stroke="#555" stroke-width="0.7"/>
<text x="0" y="0" transform="translate(128.62 359.9) scale(0.8696 1)" font-family='"Liberation Serif", serif' font-size="7.245" text-anchor="middle" fill="#000" stroke="#000" stroke-width="0.15">400</text>
<line x1="152.8" y1="347.5" x2="152.8" y2="350.6" stroke="#555" stroke-width="0.7"/>
<text x="0" y="0" transform="translate(152.8 359.9) scale(0.8696 1)" font-family='"Liberation Serif", serif' font-size="7.245" text-anchor="middle" fill="#000" stroke="#000" stroke-width="0.15">500</text>
<line x1="176.98" y1="347.5" x2="176.98" y2="350.6" stroke="#555" stroke-width="0.7"/>
<text x="0" y="0" transform="translate(176.98 359.9) scale(0.8696 1)" font-family='"Liberation Serif", serif' font-size="7.245" text-anchor="middle" fill="#000" stroke="#000" stroke-width="0.15">600</text>
<line x1="201.16" y1="347.5" x2="201.16" y2="350.6" stroke="#555" stroke-width="0.7"/>
<text x="0" y="0" transform="translate(201.16 359.9) scale(0.8696 1)" font-family='"Liberation Serif", serif' font-size="7.245" text-anchor="middle" fill="#000" stroke="#000" stroke-width="0.15">700</text>
<text x="0" y="0" transform="translate(6.6 293.5) rotate(-90) scale(0.8696 1)" font-family='"Liberation Serif", serif' font-size="7.705" text-anchor="middle" fill="#000" stroke="#000" stroke-width="0.15">Survival time (years)</text>
<text x="0" y="0" transform="translate(114.4 372.3) scale(0.8696 1)" font-family='"Liberation Serif", serif' font-size="7.44" text-anchor="middle" fill="#000" stroke="#000" stroke-width="0.15">Patients (increasing risk socre)</text>
<line x1="114.7" y1="243.4" x2="114.7" y2="347.5" stroke="#444" stroke-width="0.7" stroke-dasharray="1.6,1.2"/>
<circle cx="156.91" cy="338.74" r="1.5" fill="#0000ff"/>
<circle cx="33.35" cy="338.98" r="1.5" fill="#0000ff"/>
<circle cx="184.23" cy="335.31" r="1.5" fill="#ff0000"/>
<circle cx="114.84" cy="338.04" r="1.5" fill="#ff0000"/>
<circle cx="41.33" cy="338.06" r="1.5" fill="#0000ff"/>
<circle cx="55.84" cy="337.31" r="1.5" fill="#0000ff"/>
<circle cx="186.89" cy="337.05" r="1.5" fill="#0000ff"/>
<circle cx="148.21" cy="337.61" r="1.5" fill="#0000ff"/>
<circle cx="130.31" cy="340.3" r="1.5" fill="#ff0000"/>
<circle cx="154.01" cy="340.36" r="1.5" fill="#0000ff"/>
<circle cx="152.56" cy="339.01" r="1.5" fill="#0000ff"/>
<circle cx="158.12" cy="341.94" r="1.5" fill="#ff0000"/>
<circle cx="166.82" cy="335.94" r="1.5" fill="#0000ff"/>
<circle cx="43.51" cy="340.9" r="1.5" fill="#0000ff"/>
<circle cx="91.62" cy="339.67" r="1.5" fill="#ff0000"/>
<circle cx="164.89" cy="339.95" r="1.5" fill="#0000ff"/>
<circle cx="169" cy="337.08" r="1.5" fill="#0000ff"/>
<circle cx="177.71" cy="328.03" r="1.5" fill="#0000ff"/>
<circle cx="36.25" cy="342.89" r="1.5" fill="#ff0000"/>
<circle cx="73.97" cy="339.09" r="1.5" fill="#0000ff"/>
<circle cx="114.6" cy="332.9" r="1.5" fill="#ff0000"/>
<circle cx="180.61" cy="338.36" r="1.5" fill="#0000ff"/>
<circle cx="142.16" cy="339" r="1.5" fill="#0000ff"/>
<circle cx="161.02" cy="341.6" r="1.5" fill="#ff0000"/>
<circle cx="65.99" cy="328.84" r="1.5" fill="#0000ff"/>
<circle cx="88.96" cy="336.13" r="1.5" fill="#0000ff"/>
<circle cx="162.47" cy="337.13" r="1.5" fill="#ff0000"/>
<circle cx="112.9" cy="335.82" r="1.5" fill="#0000ff"/>
<circle cx="39.4" cy="337.8" r="1.5" fill="#0000ff"/>
<circle cx="112.66" cy="334.89" r="1.5" fill="#ff0000"/>
<circle cx="183.03" cy="337.66" r="1.5" fill="#ff0000"/>
<circle cx="143.37" cy="328.48" r="1.5" fill="#0000ff"/>
<circle cx="74.94" cy="341.96" r="1.5" fill="#ff0000"/>
<circle cx="101.3" cy="329.61" r="1.5" fill="#ff0000"/>
<circle cx="159.57" cy="336" r="1.5" fill="#0000ff"/>
<circle cx="176.74" cy="337.39" r="1.5" fill="#0000ff"/>
<circle cx="127.41" cy="337.7" r="1.5" fill="#ff0000"/>
<circle cx="62.61" cy="333.66" r="1.5" fill="#0000ff"/>
<circle cx="34.32" cy="339.17" r="1.5" fill="#0000ff"/>
<circle cx="111.94" cy="337.09" r="1.5" fill="#0000ff"/>
<circle cx="139.5" cy="342.35" r="1.5" fill="#ff0000"/>
<circle cx="64.54" cy="343.24" r="1.5" fill="#ff0000"/>
<circle cx="145.55" cy="340.81" r="1.5" fill="#ff0000"/>
<circle cx="166.34" cy="343.17" r="1.5" fill="#ff0000"/>
<circle cx="132.49" cy="331.78" r="1.5" fill="#0000ff"/>
<circle cx="64.78" cy="337.79" r="1.5" fill="#ff0000"/>
<circle cx="147.48" cy="338.47" r="1.5" fill="#ff0000"/>
<circle cx="170.45" cy="338.86" r="1.5" fill="#ff0000"/>
<circle cx="186.65" cy="333.95" r="1.5" fill="#0000ff"/>
<circle cx="56.08" cy="336.69" r="1.5" fill="#0000ff"/>
<circle cx="173.59" cy="333.7" r="1.5" fill="#ff0000"/>
<circle cx="88.24" cy="326.79" r="1.5" fill="#ff0000"/>
<circle cx="46.17" cy="331.76" r="1.5" fill="#ff0000"/>
<circle cx="64.3" cy="340.68" r="1.5" fill="#0000ff"/>
<circle cx="131.04" cy="339.99" r="1.5" fill="#0000ff"/>
<circle cx="195.84" cy="338.22" r="1.5" fill="#ff0000"/>
<circle cx="73.01" cy="337.91" r="1.5" fill="#0000ff"/>
<circle cx="133.7" cy="330.93" r="1.5" fill="#0000ff"/>
<circle cx="32.63" cy="341.51" r="1.5" fill="#ff0000"/>
<circle cx="175.05" cy="335.97" r="1.5" fill="#0000ff"/>
<circle cx="99.85" cy="334.75" r="1.5" fill="#ff0000"/>
<circle cx="142.4" cy="342.32" r="1.5" fill="#ff0000"/>
<circle cx="154.73" cy="337.7" r="1.5" fill="#ff0000"/>
<circle cx="151.11" cy="340.81" r="1.5" fill="#0000ff"/>
<circle cx="39.15" cy="335.31" r="1.5" fill="#ff0000"/>
<circle cx="87.76" cy="337.51" r="1.5" fill="#ff0000"/>
<circle cx="126.2" cy="338.38" r="1.5" fill="#ff0000"/>
<circle cx="104.44" cy="340.51" r="1.5" fill="#ff0000"/>
<circle cx="109.28" cy="337.79" r="1.5" fill="#0000ff"/>
<circle cx="178.19" cy="329.01" r="1.5" fill="#0000ff"/>
<circle cx="67.44" cy="340.83" r="1.5" fill="#0000ff"/>
<circle cx="169.97" cy="341.94" r="1.5" fill="#ff0000"/>
<circle cx="90.42" cy="340.32" r="1.5" fill="#0000ff"/>
<circle cx="177.46" cy="327.44" r="1.5" fill="#ff0000"/>
<circle cx="160.3" cy="337.94" r="1.5" fill="#0000ff"/>
<circle cx="139.02" cy="338.67" r="1.5" fill="#0000ff"/>
<circle cx="124.27" cy="334.44" r="1.5" fill="#0000ff"/>
<circle cx="38.91" cy="333.31" r="1.5" fill="#ff0000"/>
<circle cx="135.87" cy="327.41" r="1.5" fill="#ff0000"/>
<circle cx="130.07" cy="330.71" r="1.5" fill="#0000ff"/>
<circle cx="171.18" cy="342.2" r="1.5" fill="#ff0000"/>
<circle cx="71.31" cy="328.08" r="1.5" fill="#0000ff"/>
<circle cx="50.28" cy="334.72" r="1.5" fill="#0000ff"/>
<circle cx="123.54" cy="339.26" r="1.5" fill="#0000ff"/>
<circle cx="65.75" cy="334.45" r="1.5" fill="#0000ff"/>
<circle cx="159.33" cy="333.01" r="1.5" fill="#0000ff"/>
<circle cx="150.14" cy="337.24" r="1.5" fill="#ff0000"/>
<circle cx="53.9" cy="338" r="1.5" fill="#ff0000"/>
<circle cx="39.64" cy="327.62" r="1.5" fill="#ff0000"/>
<circle cx="60.43" cy="326.79" r="1.5" fill="#ff0000"/>
<circle cx="137.57" cy="343.46" r="1.5" fill="#ff0000"/>
<circle cx="58.74" cy="334.39" r="1.5" fill="#0000ff"/>
<circle cx="116.53" cy="336.95" r="1.5" fill="#0000ff"/>
<circle cx="131.76" cy="342.33" r="1.5" fill="#ff0000"/>
<circle cx="147.72" cy="338.92" r="1.5" fill="#0000ff"/>
<circle cx="177.95" cy="339.93" r="1.5" fill="#0000ff"/>
<circle cx="162.23" cy="334.62" r="1.5" fill="#ff0000"/>
<circle cx="146.03" cy="342.21" r="1.5" fill="#ff0000"/>
<circle cx="157.88" cy="333.23" r="1.5" fill="#0000ff"/>
<circle cx="61.88" cy="336.63" r="1.5" fill="#ff0000"/>
<circle cx="65.51" cy="331.27" r="1.5" fill="#0000ff"/>
<circle cx="176.98" cy="332.12" r="1.5" fill="#ff0000"/>
<circle cx="103.71" cy="336.26" r="1.5" fill="#0000ff"/>
<circle cx="126.93" cy="335.31" r="1.5" fill="#0000ff"/>
<circle cx="65.03" cy="334.82" r="1.5" fill="#ff0000"/>
<circle cx="72.52" cy="336.78" r="1.5" fill="#0000ff"/>
<circle cx="187.86" cy="333.5" r="1.5" fill="#ff0000"/>
<circle cx="153.53" cy="339.33" r="1.5" fill="#ff0000"/>
<circle cx="88" cy="334.88" r="1.5" fill="#0000ff"/>
<circle cx="108.31" cy="340.48" r="1.5" fill="#ff0000"/>
<circle cx="124.51" cy="339.63" r="1.5" fill="#ff0000"/>
<circle cx="170.21" cy="334.79" r="1.5" fill="#0000ff"/>
<circle cx="154.25" cy="340.41" r="1.5" fill="#ff0000"/>
<circle cx="145.06" cy="335.52" r="1.5" fill="#ff0000"/>
<circle cx="191.25" cy="340.85" r="1.5" fill="#ff0000"/>
<circle cx="35.29" cy="328.9" r="1.5" fill="#ff0000"/>
<circle cx="142.89" cy="339.12" r="1.5" fill="#0000ff"/>
<circle cx="179.4" cy="340.45" r="1.5" fill="#ff0000"/>
<circle cx="190.52" cy="340.95" r="1.5" fill="#ff0000"/>
<circle cx="174.08" cy="341.59" r="1.5" fill="#ff0000"/>
<circle cx="50.03" cy="326.79" r="1.5" fill="#0000ff"/>
<circle cx="130.8" cy="328.93" r="1.5" fill="#0000ff"/>
<circle cx="117.5" cy="341.22" r="1.5" fill="#ff0000"/>
<circle cx="95.01" cy="335.1" r="1.5" fill="#0000ff"/>
<circle cx="129.1" cy="337.09" r="1.5" fill="#0000ff"/>
<circle cx="149.17" cy="337.09" r="1.5" fill="#0000ff"/>
<circle cx="172.63" cy="336.56" r="1.5" fill="#ff0000"/>
<circle cx="150.62" cy="336.03" r="1.5" fill="#ff0000"/>
<circle cx="76.87" cy="339.97" r="1.5" fill="#ff0000"/>
<circle cx="70.83" cy="336.37" r="1.5" fill="#0000ff"/>
<circle cx="133.94" cy="339.67" r="1.5" fill="#ff0000"/>
<circle cx="105.65" cy="334.38" r="1.5" fill="#ff0000"/>
<circle cx="116.05" cy="337.79" r="1.5" fill="#0000ff"/>
<circle cx="169.24" cy="342.78" r="1.5" fill="#ff0000"/>
<circle cx="125.96" cy="337.49" r="1.5" fill="#ff0000"/>
<circle cx="143.85" cy="329.19" r="1.5" fill="#0000ff"/>
<circle cx="54.63" cy="337.74" r="1.5" fill="#0000ff"/>
<circle cx="32.38" cy="342.87" r="1.5" fill="#ff0000"/>
<circle cx="191.49" cy="331.72" r="1.5" fill="#ff0000"/>
<circle cx="191.97" cy="342.19" r="1.5" fill="#ff0000"/>
<circle cx="32.87" cy="335.65" r="1.5" fill="#ff0000"/>
<circle cx="134.42" cy="343.56" r="1.5" fill="#ff0000"/>
<circle cx="35.77" cy="339.82" r="1.5" fill="#0000ff"/>
<circle cx="70.1" cy="339.53" r="1.5" fill="#0000ff"/>
<circle cx="127.89" cy="340.13" r="1.5" fill="#0000ff"/>
<circle cx="74.22" cy="336.12" r="1.5" fill="#0000ff"/>
<circle cx="47.62" cy="334.8" r="1.5" fill="#0000ff"/>
<circle cx="94.04" cy="336.9" r="1.5" fill="#0000ff"/>
<circle cx="123.78" cy="340.68" r="1.5" fill="#0000ff"/>
<circle cx="141.92" cy="329.45" r="1.5" fill="#ff0000"/>
<circle cx="85.58" cy="331.12" r="1.5" fill="#0000ff"/>
<circle cx="161.5" cy="335.37" r="1.5" fill="#ff0000"/>
<circle cx="49.07" cy="333.66" r="1.5" fill="#0000ff"/>
<circle cx="146.27" cy="334.44" r="1.5" fill="#0000ff"/>
<circle cx="44.96" cy="340.92" r="1.5" fill="#0000ff"/>
<circle cx="65.27" cy="330.97" r="1.5" fill="#0000ff"/>
<circle cx="111.69" cy="340.79" r="1.5" fill="#ff0000"/>
<circle cx="149.41" cy="342.69" r="1.5" fill="#ff0000"/>
<circle cx="103.23" cy="336.56" r="1.5" fill="#0000ff"/>
<circle cx="54.15" cy="340.63" r="1.5" fill="#ff0000"/>
<circle cx="183.51" cy="327.97" r="1.5" fill="#0000ff"/>
<circle cx="51" cy="333.18" r="1.5" fill="#0000ff"/>
<circle cx="119.19" cy="332.81" r="1.5" fill="#0000ff"/>
<circle cx="74.46" cy="341.45" r="1.5" fill="#ff0000"/>
<circle cx="98.15" cy="334" r="1.5" fill="#ff0000"/>
<circle cx="178.67" cy="332.76" r="1.5" fill="#0000ff"/>
<circle cx="84.13" cy="340.35" r="1.5" fill="#0000ff"/>
<circle cx="136.84" cy="343.3" r="1.5" fill="#ff0000"/>
<circle cx="84.61" cy="340.97" r="1.5" fill="#ff0000"/>
<circle cx="67.93" cy="340.16" r="1.5" fill="#0000ff"/>
<circle cx="175.77" cy="331.74" r="1.5" fill="#0000ff"/>
<circle cx="179.64" cy="328.18" r="1.5" fill="#ff0000"/>
<circle cx="68.65" cy="342.87" r="1.5" fill="#ff0000"/>
<circle cx="79.29" cy="333.38" r="1.5" fill="#0000ff"/>
<circle cx="124.99" cy="338.08" r="1.5" fill="#0000ff"/>
<circle cx="183.27" cy="331.02" r="1.5" fill="#0000ff"/>
<circle cx="71.8" cy="340.27" r="1.5" fill="#ff0000"/>
<circle cx="43.99" cy="326.63" r="1.5" fill="#0000ff"/>
<circle cx="37.22" cy="338.52" r="1.5" fill="#0000ff"/>
<circle cx="81.95" cy="336.48" r="1.5" fill="#ff0000"/>
<circle cx="195.6" cy="343.49" r="1.5" fill="#ff0000"/>
<circle cx="87.27" cy="327.56" r="1.5" fill="#ff0000"/>
<circle cx="44.23" cy="341.39" r="1.5" fill="#ff0000"/>
<circle cx="55.6" cy="336.17" r="1.5" fill="#0000ff"/>
<circle cx="135.63" cy="339.24" r="1.5" fill="#0000ff"/>
<circle cx="165.86" cy="335.98" r="1.5" fill="#ff0000"/>
<circle cx="69.62" cy="329.22" r="1.5" fill="#0000ff"/>
<circle cx="101.05" cy="328.6" r="1.5" fill="#0000ff"/>
<circle cx="139.74" cy="332.99" r="1.5" fill="#ff0000"/>
<circle cx="37.7" cy="336.91" r="1.5" fill="#ff0000"/>
<circle cx="34.08" cy="332.91" r="1.5" fill="#0000ff"/>
<circle cx="93.56" cy="332.03" r="1.5" fill="#0000ff"/>
<circle cx="93.32" cy="332.53" r="1.5" fill="#ff0000"/>
<circle cx="78.33" cy="341.86" r="1.5" fill="#ff0000"/>
<circle cx="42.06" cy="338.96" r="1.5" fill="#ff0000"/>
<circle cx="95.74" cy="334.07" r="1.5" fill="#0000ff"/>
<circle cx="48.83" cy="330.6" r="1.5" fill="#0000ff"/>
<circle cx="37.95" cy="337.04" r="1.5" fill="#0000ff"/>
<circle cx="54.87" cy="337.75" r="1.5" fill="#0000ff"/>
<circle cx="127.65" cy="338.62" r="1.5" fill="#0000ff"/>
<circle cx="38.19" cy="332.11" r="1.5" fill="#0000ff"/>
<circle cx="92.83" cy="328.59" r="1.5" fill="#0000ff"/>
<circle cx="183.99" cy="343.48" r="1.5" fill="#ff0000"/>
<circle cx="168.52" cy="329.96" r="1.5" fill="#ff0000"/>
<circle cx="66.24" cy="339.36" r="1.5" fill="#ff0000"/>
<circle cx="167.79" cy="333.53" r="1.5" fill="#ff0000"/>
<circle cx="68.17" cy="343.08" r="1.5" fill="#ff0000"/>
<circle cx="191.73" cy="339.59" r="1.5" fill="#0000ff"/>
<circle cx="109.76" cy="339.86" r="1.5" fill="#ff0000"/>
<circle cx="85.82" cy="339.14" r="1.5" fill="#0000ff"/>
<circle cx="71.56" cy="335.14" r="1.5" fill="#0000ff"/>
<circle cx="127.17" cy="340.01" r="1.5" fill="#ff0000"/>
<circle cx="173.84" cy="340.77" r="1.5" fill="#0000ff"/>
<circle cx="182.3" cy="341.89" r="1.5" fill="#ff0000"/>
<circle cx="91.87" cy="336.83" r="1.5" fill="#0000ff"/>
<circle cx="155.46" cy="330.69" r="1.5" fill="#ff0000"/>
<circle cx="66.96" cy="327.57" r="1.5" fill="#0000ff"/>
<circle cx="82.44" cy="339.84" r="1.5" fill="#ff0000"/>
<circle cx="46.41" cy="326.69" r="1.5" fill="#0000ff"/>
<circle cx="97.19" cy="330.96" r="1.5" fill="#ff0000"/>
<circle cx="111.21" cy="335.7" r="1.5" fill="#0000ff"/>
<circle cx="41.81" cy="327.54" r="1.5" fill="#0000ff"/>
<circle cx="196.32" cy="329.8" r="1.5" fill="#ff0000"/>
<circle cx="88.72" cy="334.76" r="1.5" fill="#0000ff"/>
<circle cx="117.26" cy="330.76" r="1.5" fill="#ff0000"/>
<circle cx="81.47" cy="329.43" r="1.5" fill="#0000ff"/>
<circle cx="138.05" cy="341.89" r="1.5" fill="#ff0000"/>
<circle cx="45.68" cy="340.03" r="1.5" fill="#0000ff"/>
<circle cx="94.77" cy="343.53" r="1.5" fill="#ff0000"/>
<circle cx="122.09" cy="337.13" r="1.5" fill="#ff0000"/>
<circle cx="105.41" cy="340.26" r="1.5" fill="#0000ff"/>
<circle cx="83.65" cy="339" r="1.5" fill="#ff0000"/>
<circle cx="138.78" cy="329.53" r="1.5" fill="#ff0000"/>
<circle cx="68.41" cy="338.38" r="1.5" fill="#0000ff"/>
<circle cx="114.11" cy="333.07" r="1.5" fill="#0000ff"/>
<circle cx="77.6" cy="334.68" r="1.5" fill="#ff0000"/>
<circle cx="119.43" cy="334.65" r="1.5" fill="#0000ff"/>
<circle cx="59.95" cy="338.09" r="1.5" fill="#ff0000"/>
<circle cx="185.44" cy="337.09" r="1.5" fill="#0000ff"/>
<circle cx="164.41" cy="337.76" r="1.5" fill="#0000ff"/>
<circle cx="150.87" cy="334.51" r="1.5" fill="#ff0000"/>
<circle cx="104.92" cy="339.53" r="1.5" fill="#0000ff"/>
<circle cx="54.39" cy="332.98" r="1.5" fill="#0000ff"/>
<circle cx="57.05" cy="333.25" r="1.5" fill="#ff0000"/>
<circle cx="168.28" cy="339.2" r="1.5" fill="#0000ff"/>
<circle cx="188.34" cy="343.26" r="1.5" fill="#ff0000"/>
<circle cx="154.49" cy="328.05" r="1.5" fill="#0000ff"/>
<circle cx="110.48" cy="335.36" r="1.5" fill="#0000ff"/>
<circle cx="149.66" cy="336" r="1.5" fill="#0000ff"/>
<circle cx="148.93" cy="328.89" r="1.5" fill="#0000ff"/>
<circle cx="175.29" cy="329.92" r="1.5" fill="#ff0000"/>
<circle cx="109.03" cy="341.56" r="1.5" fill="#ff0000"/>
<circle cx="148.45" cy="340.28" r="1.5" fill="#0000ff"/>
<circle cx="93.8" cy="340.6" r="1.5" fill="#ff0000"/>
<circle cx="163.44" cy="337.21" r="1.5" fill="#ff0000"/>
<circle cx="165.37" cy="335.92" r="1.5" fill="#ff0000"/>
<circle cx="149.9" cy="340.12" r="1.5" fill="#ff0000"/>
<circle cx="42.3" cy="341.57" r="1.5" fill="#ff0000"/>
<circle cx="167.07" cy="337.28" r="1.5" fill="#0000ff"/>
<circle cx="131.28" cy="335.95" r="1.5" fill="#0000ff"/>
<circle cx="137.32" cy="335.67" r="1.5" fill="#0000ff"/>
<circle cx="170.69" cy="340.41" r="1.5" fill="#ff0000"/>
<circle cx="35.53" cy="337.99" r="1.5" fill="#0000ff"/>
<circle cx="152.32" cy="334.71" r="1.5" fill="#ff0000"/>
<circle cx="43.02" cy="343.07" r="1.5" fill="#ff0000"/>
<circle cx="84.85" cy="343.11" r="1.5" fill="#ff0000"/>
<circle cx="152.07" cy="335.64" r="1.5" fill="#0000ff"/>
<circle cx="75.67" cy="338.44" r="1.5" fill="#ff0000"/>
<circle cx="78.57" cy="338.56" r="1.5" fill="#ff0000"/>
<circle cx="46.65" cy="327.98" r="1.5" fill="#0000ff"/>
<circle cx="161.75" cy="330.69" r="1.5" fill="#ff0000"/>
<circle cx="181.33" cy="338.05" r="1.5" fill="#ff0000"/>
<circle cx="112.42" cy="340.92" r="1.5" fill="#ff0000"/>
<circle cx="79.05" cy="334.3" r="1.5" fill="#0000ff"/>
<circle cx="174.8" cy="337.18" r="1.5" fill="#ff0000"/>
<circle cx="176.25" cy="329.66" r="1.5" fill="#ff0000"/>
<circle cx="140.47" cy="332.88" r="1.5" fill="#ff0000"/>
<circle cx="92.59" cy="336.77" r="1.5" fill="#ff0000"/>
<circle cx="146.75" cy="341.22" r="1.5" fill="#ff0000"/>
<circle cx="157.39" cy="333.87" r="1.5" fill="#0000ff"/>
<circle cx="56.56" cy="335.27" r="1.5" fill="#0000ff"/>
<circle cx="189.55" cy="342.95" r="1.5" fill="#ff0000"/>
<circle cx="79.53" cy="335.07" r="1.5" fill="#ff0000"/>
<circle cx="160.05" cy="327.82" r="1.5" fill="#ff0000"/>
<circle cx="133.46" cy="335.55" r="1.5" fill="#0000ff"/>
<circle cx="167.31" cy="337.44" r="1.5" fill="#0000ff"/>
<circle cx="57.29" cy="341.49" r="1.5" fill="#ff0000"/>
<circle cx="52.21" cy="335.3" r="1.5" fill="#0000ff"/>
<circle cx="174.32" cy="338.66" r="1.5" fill="#0000ff"/>
<circle cx="34.8" cy="338.74" r="1.5" fill="#0000ff"/>
<circle cx="39.88" cy="339.28" r="1.5" fill="#0000ff"/>
<circle cx="102.02" cy="343.51" r="1.5" fill="#ff0000"/>
<circle cx="78.08" cy="340.26" r="1.5" fill="#0000ff"/>
<circle cx="113.87" cy="335.05" r="1.5" fill="#0000ff"/>
<circle cx="100.81" cy="334.87" r="1.5" fill="#ff0000"/>
<circle cx="161.99" cy="335.55" r="1.5" fill="#ff0000"/>
<circle cx="164.16" cy="332.68" r="1.5" fill="#ff0000"/>
<circle cx="190.04" cy="329.45" r="1.5" fill="#ff0000"/>
<circle cx="176.5" cy="335.18" r="1.5" fill="#ff0000"/>
<circle cx="192.46" cy="340.42" r="1.5" fill="#ff0000"/>
<circle cx="157.15" cy="339.25" r="1.5" fill="#0000ff"/>
<circle cx="132.97" cy="336.69" r="1.5" fill="#0000ff"/>
<circle cx="89.93" cy="336.64" r="1.5" fill="#ff0000"/>
<circle cx="187.62" cy="339.74" r="1.5" fill="#0000ff"/>
<circle cx="150.38" cy="334.85" r="1.5" fill="#ff0000"/>
<circle cx="87.03" cy="338.6" r="1.5" fill="#0000ff"/>
<circle cx="77.84" cy="330.37" r="1.5" fill="#0000ff"/>
<circle cx="158.6" cy="340.12" r="1.5" fill="#ff0000"/>
<circle cx="120.4" cy="333.2" r="1.5" fill="#0000ff"/>
<circle cx="147.24" cy="328.94" r="1.5" fill="#ff0000"/>
<circle cx="35.04" cy="338.54" r="1.5" fill="#0000ff"/>
<circle cx="80.5" cy="332.1" r="1.5" fill="#0000ff"/>
<circle cx="36.49" cy="336.13" r="1.5" fill="#0000ff"/>
<circle cx="97.43" cy="339.17" r="1.5" fill="#0000ff"/>
<circle cx="147" cy="341.79" r="1.5" fill="#ff0000"/>
<circle cx="102.99" cy="343.48" r="1.5" fill="#ff0000"/>
<circle cx="137.81" cy="332.73" r="1.5" fill="#ff0000"/>
<circle cx="117.01" cy="340.23" r="1.5" fill="#0000ff"/>
<circle cx="194.63" cy="340.61" r="1.5" fill="#ff0000"/>
<circle cx="146.51" cy="338.69" r="1.5" fill="#ff0000"/>
<circle cx="91.14" cy="335.21" r="1.5" fill="#0000ff"/>
<circle cx="151.83" cy="336.5" r="1.5" fill="#0000ff"/>
<circle cx="51.97" cy="337.98" r="1.5" fill="#0000ff"/>
<circle cx="160.54" cy="335.22" r="1.5" fill="#0000ff"/>
<circle cx="80.02" cy="339.26" r="1.5" fill="#0000ff"/>
<circle cx="166.1" cy="335.2" r="1.5" fill="#0000ff"/>
<circle cx="163.2" cy="335.1" r="1.5" fill="#ff0000"/>
<circle cx="53.66" cy="334.95" r="1.5" fill="#0000ff"/>
<circle cx="185.68" cy="339.01" r="1.5" fill="#ff0000"/>
<circle cx="172.39" cy="328.66" r="1.5" fill="#ff0000"/>
<circle cx="49.55" cy="328.51" r="1.5" fill="#0000ff"/>
<circle cx="195.12" cy="342.77" r="1.5" fill="#ff0000"/>
<circle cx="162.71" cy="336.77" r="1.5" fill="#0000ff"/>
<circle cx="95.25" cy="334.33" r="1.5" fill="#0000ff"/>
<circle cx="123.06" cy="335.88" r="1.5" fill="#ff0000"/>
<circle cx="61.4" cy="332.31" r="1.5" fill="#ff0000"/>
<circle cx="135.39" cy="336.35" r="1.5" fill="#ff0000"/>
<circle cx="134.91" cy="343.4" r="1.5" fill="#ff0000"/>
<circle cx="75.42" cy="339.8" r="1.5" fill="#0000ff"/>
<circle cx="118.95" cy="326.6" r="1.5" fill="#0000ff"/>
<circle cx="122.57" cy="337.56" r="1.5" fill="#0000ff"/>
<circle cx="82.19" cy="338.56" r="1.5" fill="#0000ff"/>
<circle cx="38.67" cy="343.43" r="1.5" fill="#ff0000"/>
<circle cx="56.32" cy="338.35" r="1.5" fill="#0000ff"/>
<circle cx="197.53" cy="335.3" r="1.5" fill="#ff0000"/>
<circle cx="126.69" cy="343.38" r="1.5" fill="#ff0000"/>
<circle cx="100.57" cy="340.11" r="1.5" fill="#0000ff"/>
<circle cx="51.49" cy="339.34" r="1.5" fill="#0000ff"/>
<circle cx="72.28" cy="329.99" r="1.5" fill="#0000ff"/>
<circle cx="102.26" cy="339.53" r="1.5" fill="#0000ff"/>
<circle cx="181.09" cy="339.24" r="1.5" fill="#0000ff"/>
<circle cx="105.89" cy="335.71" r="1.5" fill="#0000ff"/>
<circle cx="98.64" cy="327.36" r="1.5" fill="#ff0000"/>
<circle cx="108.07" cy="343.23" r="1.5" fill="#0000ff"/>
<circle cx="80.74" cy="343.22" r="1.5" fill="#0000ff"/>
<circle cx="91.38" cy="343.24" r="1.5" fill="#0000ff"/>
<circle cx="180.85" cy="343.32" r="1.5" fill="#0000ff"/>
<circle cx="70.59" cy="342.39" r="1.5" fill="#0000ff"/>
<circle cx="38.43" cy="341.88" r="1.5" fill="#0000ff"/>
<circle cx="40.36" cy="343.35" r="1.5" fill="#0000ff"/>
<circle cx="58.26" cy="342.32" r="1.5" fill="#0000ff"/>
<circle cx="152.8" cy="342.18" r="1.5" fill="#0000ff"/>
<circle cx="192.94" cy="342.17" r="1.5" fill="#0000ff"/>
<circle cx="106.62" cy="342.19" r="1.5" fill="#0000ff"/>
<circle cx="119.92" cy="343.09" r="1.5" fill="#0000ff"/>
<circle cx="159.09" cy="343.38" r="1.5" fill="#0000ff"/>
<circle cx="52.69" cy="342.75" r="1.5" fill="#0000ff"/>
<circle cx="118.22" cy="342.54" r="1.5" fill="#0000ff"/>
<circle cx="128.38" cy="343.52" r="1.5" fill="#0000ff"/>
<circle cx="144.82" cy="343.32" r="1.5" fill="#0000ff"/>
<circle cx="73.25" cy="342.54" r="1.5" fill="#0000ff"/>
<circle cx="55.11" cy="342.79" r="1.5" fill="#0000ff"/>
<circle cx="196.57" cy="342.54" r="1.5" fill="#0000ff"/>
<circle cx="181.57" cy="342.16" r="1.5" fill="#0000ff"/>
<circle cx="131.52" cy="342.67" r="1.5" fill="#0000ff"/>
<circle cx="40.6" cy="342.9" r="1.5" fill="#0000ff"/>
<circle cx="95.98" cy="343.06" r="1.5" fill="#0000ff"/>
<circle cx="116.77" cy="341.87" r="1.5" fill="#0000ff"/>
<circle cx="42.54" cy="343.37" r="1.5" fill="#0000ff"/>
<circle cx="179.16" cy="342.72" r="1.5" fill="#0000ff"/>
<circle cx="151.59" cy="341.27" r="1.5" fill="#0000ff"/>
<circle cx="44.72" cy="343.57" r="1.5" fill="#0000ff"/>
<circle cx="43.75" cy="343.07" r="1.5" fill="#0000ff"/>
<circle cx="128.62" cy="342.8" r="1.5" fill="#0000ff"/>
<circle cx="80.26" cy="343.53" r="1.5" fill="#0000ff"/>
<circle cx="137.08" cy="342.38" r="1.5" fill="#0000ff"/>
<circle cx="45.2" cy="342.84" r="1.5" fill="#0000ff"/>
<circle cx="76.15" cy="342.19" r="1.5" fill="#0000ff"/>
<circle cx="103.47" cy="343" r="1.5" fill="#0000ff"/>
<circle cx="112.18" cy="342.7" r="1.5" fill="#0000ff"/>
<circle cx="153.04" cy="343.2" r="1.5" fill="#0000ff"/>
<circle cx="197.05" cy="342.38" r="1.5" fill="#0000ff"/>
<circle cx="46.89" cy="342.85" r="1.5" fill="#0000ff"/>
<circle cx="180.12" cy="342.76" r="1.5" fill="#0000ff"/>
<circle cx="189.07" cy="342.25" r="1.5" fill="#0000ff"/>
<circle cx="116.29" cy="342.99" r="1.5" fill="#0000ff"/>
<circle cx="113.14" cy="343.42" r="1.5" fill="#0000ff"/>
<circle cx="125.72" cy="343.08" r="1.5" fill="#0000ff"/>
<circle cx="104.68" cy="343.38" r="1.5" fill="#0000ff"/>
<circle cx="190.76" cy="342.57" r="1.5" fill="#0000ff"/>
<circle cx="188.1" cy="343.42" r="1.5" fill="#0000ff"/>
<circle cx="31.9" cy="343.38" r="1.5" fill="#0000ff"/>
<circle cx="183.75" cy="343.55" r="1.5" fill="#0000ff"/>
<circle cx="129.59" cy="342.32" r="1.5" fill="#0000ff"/>
<circle cx="41.09" cy="342.78" r="1.5" fill="#0000ff"/>
<circle cx="153.28" cy="343" r="1.5" fill="#0000ff"/>
<circle cx="135.15" cy="342.6" r="1.5" fill="#0000ff"/>
<circle cx="69.38" cy="342.75" r="1.5" fill="#0000ff"/>
<circle cx="75.18" cy="342.63" r="1.5" fill="#0000ff"/>
<circle cx="145.3" cy="343.24" r="1.5" fill="#0000ff"/>
<circle cx="192.7" cy="343.23" r="1.5" fill="#0000ff"/>
<circle cx="171.66" cy="343.57" r="1.5" fill="#0000ff"/>
<circle cx="69.14" cy="343.57" r="1.5" fill="#0000ff"/>
<circle cx="125.48" cy="343.6" r="1.5" fill="#0000ff"/>
<circle cx="129.35" cy="343.15" r="1.5" fill="#0000ff"/>
<circle cx="186.41" cy="342.3" r="1.5" fill="#0000ff"/>
<circle cx="138.53" cy="342.21" r="1.5" fill="#0000ff"/>
<circle cx="119.67" cy="342.46" r="1.5" fill="#0000ff"/>
<circle cx="168.76" cy="342.99" r="1.5" fill="#0000ff"/>
<circle cx="186.17" cy="343.54" r="1.5" fill="#0000ff"/>
<circle cx="155.94" cy="342.37" r="1.5" fill="#0000ff"/>
<circle cx="167.55" cy="342.64" r="1.5" fill="#0000ff"/>
<circle cx="110.24" cy="342.78" r="1.5" fill="#0000ff"/>
<circle cx="63.58" cy="343.44" r="1.5" fill="#0000ff"/>
<circle cx="140.23" cy="342.89" r="1.5" fill="#0000ff"/>
<circle cx="59.22" cy="343.32" r="1.5" fill="#0000ff"/>
<circle cx="44.47" cy="343.22" r="1.5" fill="#0000ff"/>
<circle cx="129.83" cy="342" r="1.5" fill="#0000ff"/>
<circle cx="72.04" cy="343.08" r="1.5" fill="#0000ff"/>
<circle cx="85.1" cy="343.23" r="1.5" fill="#0000ff"/>
<circle cx="144.34" cy="341.08" r="1.5" fill="#0000ff"/>
<circle cx="173.11" cy="342.21" r="1.5" fill="#0000ff"/>
<circle cx="196.08" cy="342.72" r="1.5" fill="#0000ff"/>
<circle cx="121.85" cy="342.47" r="1.5" fill="#0000ff"/>
<circle cx="62.12" cy="342.61" r="1.5" fill="#0000ff"/>
<circle cx="107.58" cy="342.74" r="1.5" fill="#0000ff"/>
<circle cx="68.9" cy="343.47" r="1.5" fill="#0000ff"/>
<circle cx="141.68" cy="342.46" r="1.5" fill="#0000ff"/>
<circle cx="120.88" cy="343.22" r="1.5" fill="#0000ff"/>
<circle cx="100.09" cy="342.91" r="1.5" fill="#0000ff"/>
<circle cx="86.3" cy="342.87" r="1.5" fill="#0000ff"/>
<circle cx="115.56" cy="342.79" r="1.5" fill="#0000ff"/>
<circle cx="89.45" cy="342.27" r="1.5" fill="#0000ff"/>
<circle cx="50.52" cy="343.42" r="1.5" fill="#0000ff"/>
<circle cx="76.39" cy="342.94" r="1.5" fill="#0000ff"/>
<circle cx="98.88" cy="342.22" r="1.5" fill="#0000ff"/>
<circle cx="156.67" cy="343.25" r="1.5" fill="#0000ff"/>
<circle cx="94.28" cy="343.03" r="1.5" fill="#0000ff"/>
<circle cx="177.22" cy="342.99" r="1.5" fill="#0000ff"/>
<circle cx="179.88" cy="342.43" r="1.5" fill="#0000ff"/>
<circle cx="138.29" cy="342.57" r="1.5" fill="#0000ff"/>
<circle cx="96.22" cy="343.6" r="1.5" fill="#0000ff"/>
<circle cx="83.89" cy="343.3" r="1.5" fill="#0000ff"/>
<circle cx="153.77" cy="342.53" r="1.5" fill="#0000ff"/>
<circle cx="86.06" cy="343.2" r="1.5" fill="#0000ff"/>
<circle cx="140.71" cy="342.4" r="1.5" fill="#0000ff"/>
<circle cx="117.98" cy="341.74" r="1.5" fill="#0000ff"/>
<circle cx="96.46" cy="342.22" r="1.5" fill="#0000ff"/>
<circle cx="128.14" cy="342.83" r="1.5" fill="#0000ff"/>
<circle cx="107.1" cy="342.35" r="1.5" fill="#0000ff"/>
<circle cx="169.48" cy="342.43" r="1.5" fill="#0000ff"/>
<circle cx="82.92" cy="342.92" r="1.5" fill="#0000ff"/>
<circle cx="48.1" cy="343.28" r="1.5" fill="#0000ff"/>
<circle cx="162.96" cy="342.18" r="1.5" fill="#0000ff"/>
<circle cx="90.66" cy="343.16" r="1.5" fill="#0000ff"/>
<circle cx="165.62" cy="343.17" r="1.5" fill="#0000ff"/>
<circle cx="55.35" cy="342.48" r="1.5" fill="#0000ff"/>
<circle cx="60.92" cy="343.41" r="1.5" fill="#0000ff"/>
<circle cx="156.19" cy="343.23" r="1.5" fill="#0000ff"/>
<circle cx="73.73" cy="342.53" r="1.5" fill="#0000ff"/>
<circle cx="197.29" cy="341.93" r="1.5" fill="#0000ff"/>
<circle cx="132.73" cy="343.25" r="1.5" fill="#0000ff"/>
<circle cx="87.51" cy="342.57" r="1.5" fill="#0000ff"/>
<circle cx="172.14" cy="342.48" r="1.5" fill="#0000ff"/>
<circle cx="33.83" cy="343.43" r="1.5" fill="#0000ff"/>
<circle cx="117.74" cy="341.34" r="1.5" fill="#0000ff"/>
<circle cx="164.65" cy="342.4" r="1.5" fill="#0000ff"/>
<circle cx="63.82" cy="343.31" r="1.5" fill="#0000ff"/>
<circle cx="97.91" cy="343.01" r="1.5" fill="#0000ff"/>
<circle cx="195.36" cy="342.49" r="1.5" fill="#0000ff"/>
<circle cx="122.82" cy="342.17" r="1.5" fill="#0000ff"/>
<circle cx="92.11" cy="342.64" r="1.5" fill="#0000ff"/>
<circle cx="109.52" cy="343.36" r="1.5" fill="#0000ff"/>
<circle cx="144.1" cy="342.97" r="1.5" fill="#0000ff"/>
<circle cx="104.2" cy="342.78" r="1.5" fill="#0000ff"/>
<circle cx="103.96" cy="341.11" r="1.5" fill="#0000ff"/>
<circle cx="63.33" cy="343.41" r="1.5" fill="#0000ff"/>
<circle cx="171.9" cy="342.54" r="1.5" fill="#0000ff"/>
<circle cx="52.94" cy="341.04" r="1.5" fill="#0000ff"/>
<circle cx="33.59" cy="342.36" r="1.5" fill="#0000ff"/>
<circle cx="60.67" cy="343.54" r="1.5" fill="#0000ff"/>
<circle cx="113.63" cy="341.64" r="1.5" fill="#0000ff"/>
<circle cx="99.12" cy="342.56" r="1.5" fill="#0000ff"/>
<circle cx="110.73" cy="343.32" r="1.5" fill="#0000ff"/>
<circle cx="64.06" cy="342.5" r="1.5" fill="#0000ff"/>
<circle cx="59.47" cy="341.9" r="1.5" fill="#0000ff"/>
<circle cx="139.98" cy="342.5" r="1.5" fill="#0000ff"/>
<circle cx="174.56" cy="342.45" r="1.5" fill="#0000ff"/>
<circle cx="96.94" cy="343.08" r="1.5" fill="#0000ff"/>
<circle cx="143.61" cy="343.13" r="1.5" fill="#0000ff"/>
<circle cx="193.42" cy="343.18" r="1.5" fill="#0000ff"/>
<circle cx="141.44" cy="341.2" r="1.5" fill="#0000ff"/>
<circle cx="88.48" cy="343.38" r="1.5" fill="#0000ff"/>
<circle cx="118.71" cy="342.23" r="1.5" fill="#0000ff"/>
<circle cx="70.35" cy="342.55" r="1.5" fill="#0000ff"/>
<circle cx="108.79" cy="343.31" r="1.5" fill="#0000ff"/>
<circle cx="62.85" cy="342.35" r="1.5" fill="#0000ff"/>
<circle cx="33.11" cy="342.69" r="1.5" fill="#0000ff"/>
<circle cx="175.53" cy="342.19" r="1.5" fill="#0000ff"/>
<circle cx="41.57" cy="341.63" r="1.5" fill="#0000ff"/>
<circle cx="158.84" cy="343.26" r="1.5" fill="#0000ff"/>
<circle cx="66.72" cy="343.36" r="1.5" fill="#0000ff"/>
<circle cx="98.39" cy="342.27" r="1.5" fill="#0000ff"/>
<circle cx="193.66" cy="342.55" r="1.5" fill="#0000ff"/>
<circle cx="106.37" cy="343.18" r="1.5" fill="#0000ff"/>
<circle cx="58.5" cy="342.22" r="1.5" fill="#0000ff"/>
<circle cx="185.2" cy="342.21" r="1.5" fill="#0000ff"/>
<circle cx="62.37" cy="342.24" r="1.5" fill="#0000ff"/>
<circle cx="67.2" cy="343.25" r="1.5" fill="#0000ff"/>
<circle cx="185.93" cy="342.2" r="1.5" fill="#0000ff"/>
<circle cx="141.19" cy="343.29" r="1.5" fill="#0000ff"/>
<circle cx="143.13" cy="342.93" r="1.5" fill="#0000ff"/>
<circle cx="130.55" cy="343.54" r="1.5" fill="#0000ff"/>
<circle cx="170.94" cy="343.59" r="1.5" fill="#0000ff"/>
<circle cx="77.36" cy="342.76" r="1.5" fill="#0000ff"/>
<circle cx="95.49" cy="343.33" r="1.5" fill="#0000ff"/>
<circle cx="58.98" cy="342.98" r="1.5" fill="#0000ff"/>
<circle cx="156.43" cy="343.6" r="1.5" fill="#0000ff"/>
<circle cx="196.81" cy="341.62" r="1.5" fill="#0000ff"/>
<circle cx="101.78" cy="343.31" r="1.5" fill="#0000ff"/>
<circle cx="107.83" cy="343.07" r="1.5" fill="#0000ff"/>
<circle cx="161.26" cy="342.89" r="1.5" fill="#0000ff"/>
<circle cx="40.85" cy="343.59" r="1.5" fill="#0000ff"/>
<circle cx="178.43" cy="343.48" r="1.5" fill="#0000ff"/>
<circle cx="194.39" cy="343.6" r="1.5" fill="#0000ff"/>
<circle cx="79.78" cy="343.03" r="1.5" fill="#0000ff"/>
<circle cx="67.69" cy="342.21" r="1.5" fill="#0000ff"/>
<circle cx="34.56" cy="343.51" r="1.5" fill="#0000ff"/>
<circle cx="115.8" cy="342.39" r="1.5" fill="#0000ff"/>
<circle cx="155.7" cy="341.08" r="1.5" fill="#0000ff"/>
<circle cx="145.79" cy="342.19" r="1.5" fill="#0000ff"/>
<circle cx="181.82" cy="342.69" r="1.5" fill="#0000ff"/>
<circle cx="124.03" cy="342.42" r="1.5" fill="#0000ff"/>
<circle cx="134.18" cy="341.45" r="1.5" fill="#0000ff"/>
<circle cx="74.7" cy="342.53" r="1.5" fill="#0000ff"/>
<circle cx="163.92" cy="342.91" r="1.5" fill="#0000ff"/>
<circle cx="190.28" cy="342.41" r="1.5" fill="#0000ff"/>
<circle cx="78.81" cy="343.1" r="1.5" fill="#0000ff"/>
<circle cx="160.78" cy="343.26" r="1.5" fill="#0000ff"/>
<circle cx="36.01" cy="343" r="1.5" fill="#0000ff"/>
<circle cx="166.58" cy="342.27" r="1.5" fill="#0000ff"/>
<circle cx="80.99" cy="343.06" r="1.5" fill="#0000ff"/>
<circle cx="115.08" cy="343.24" r="1.5" fill="#0000ff"/>
<circle cx="72.76" cy="342.45" r="1.5" fill="#0000ff"/>
<circle cx="187.14" cy="343.39" r="1.5" fill="#0000ff"/>
<circle cx="49.79" cy="342.46" r="1.5" fill="#0000ff"/>
<circle cx="83.16" cy="342.53" r="1.5" fill="#0000ff"/>
<circle cx="86.79" cy="343.21" r="1.5" fill="#0000ff"/>
<circle cx="107.34" cy="342.48" r="1.5" fill="#0000ff"/>
<circle cx="125.23" cy="343.27" r="1.5" fill="#0000ff"/>
<circle cx="51.73" cy="343.58" r="1.5" fill="#0000ff"/>
<circle cx="114.35" cy="343.02" r="1.5" fill="#0000ff"/>
<circle cx="99.36" cy="343.59" r="1.5" fill="#0000ff"/>
<circle cx="121.37" cy="342.25" r="1.5" fill="#0000ff"/>
<circle cx="194.15" cy="342.43" r="1.5" fill="#0000ff"/>
<circle cx="191" cy="342.34" r="1.5" fill="#0000ff"/>
<circle cx="128.86" cy="343.31" r="1.5" fill="#0000ff"/>
<circle cx="47.13" cy="343.56" r="1.5" fill="#0000ff"/>
<circle cx="32.14" cy="342.83" r="1.5" fill="#0000ff"/>
<circle cx="132.01" cy="343.26" r="1.5" fill="#0000ff"/>
<circle cx="155.22" cy="342.68" r="1.5" fill="#0000ff"/>
<circle cx="48.34" cy="343.3" r="1.5" fill="#0000ff"/>
<circle cx="66.48" cy="343.5" r="1.5" fill="#0000ff"/>
<circle cx="108.55" cy="342.62" r="1.5" fill="#0000ff"/>
<circle cx="89.69" cy="343.42" r="1.5" fill="#0000ff"/>
<circle cx="188.59" cy="341.95" r="1.5" fill="#0000ff"/>
<circle cx="52.45" cy="343.24" r="1.5" fill="#0000ff"/>
<circle cx="142.64" cy="343.22" r="1.5" fill="#0000ff"/>
<circle cx="45.92" cy="342.48" r="1.5" fill="#0000ff"/>
<circle cx="71.07" cy="342.84" r="1.5" fill="#0000ff"/>
<circle cx="42.78" cy="343.6" r="1.5" fill="#0000ff"/>
<circle cx="73.49" cy="343.22" r="1.5" fill="#0000ff"/>
<circle cx="139.26" cy="342.58" r="1.5" fill="#0000ff"/>
<circle cx="83.4" cy="342.65" r="1.5" fill="#0000ff"/>
<circle cx="124.75" cy="343.38" r="1.5" fill="#0000ff"/>
<circle cx="57.53" cy="342.63" r="1.5" fill="#0000ff"/>
<circle cx="58.01" cy="342.57" r="1.5" fill="#0000ff"/>
<circle cx="173.35" cy="343.58" r="1.5" fill="#0000ff"/>
<circle cx="118.46" cy="341.63" r="1.5" fill="#0000ff"/>
<circle cx="101.54" cy="343.08" r="1.5" fill="#0000ff"/>
<circle cx="121.12" cy="343.55" r="1.5" fill="#0000ff"/>
<circle cx="184.96" cy="342.74" r="1.5" fill="#0000ff"/>
<circle cx="89.21" cy="341.75" r="1.5" fill="#0000ff"/>
<circle cx="92.35" cy="343.55" r="1.5" fill="#0000ff"/>
<circle cx="59.71" cy="341.91" r="1.5" fill="#0000ff"/>
<circle cx="188.83" cy="343.55" r="1.5" fill="#0000ff"/>
<circle cx="120.16" cy="342.3" r="1.5" fill="#0000ff"/>
<circle cx="56.81" cy="342.79" r="1.5" fill="#0000ff"/>
<circle cx="47.38" cy="342.6" r="1.5" fill="#0000ff"/>
<circle cx="36.98" cy="342.6" r="1.5" fill="#0000ff"/>
<circle cx="63.09" cy="342.8" r="1.5" fill="#0000ff"/>
<circle cx="53.18" cy="342.94" r="1.5" fill="#0000ff"/>
<circle cx="90.17" cy="342.84" r="1.5" fill="#0000ff"/>
<circle cx="97.67" cy="343.07" r="1.5" fill="#0000ff"/>
<circle cx="168.03" cy="342.48" r="1.5" fill="#0000ff"/>
<circle cx="182.06" cy="342.74" r="1.5" fill="#0000ff"/>
<circle cx="110.97" cy="343.59" r="1.5" fill="#0000ff"/>
<circle cx="93.08" cy="342.2" r="1.5" fill="#0000ff"/>
<circle cx="39.2" cy="268.8" r="1.5" fill="#ff0000"/>
<circle cx="64.4" cy="273.4" r="1.5" fill="#ff0000"/>
<circle cx="57.1" cy="296" r="1.5" fill="#ff0000"/>
<circle cx="68.6" cy="299" r="1.5" fill="#ff0000"/>
<circle cx="82.5" cy="301.4" r="1.5" fill="#ff0000"/>
<circle cx="122.9" cy="298.6" r="1.5" fill="#ff0000"/>
<circle cx="126" cy="301.7" r="1.5" fill="#ff0000"/>
<circle cx="164.3" cy="289.1" r="1.5" fill="#ff0000"/>
<circle cx="172" cy="297.4" r="1.5" fill="#ff0000"/>
<circle cx="33" cy="320.1" r="1.5" fill="#ff0000"/>
<circle cx="57.5" cy="296.2" r="1.5" fill="#ff0000"/>
<circle cx="68.3" cy="299" r="1.5" fill="#ff0000"/>
<circle cx="82.5" cy="301.3" r="1.5" fill="#ff0000"/>
<circle cx="83.7" cy="305.5" r="1.5" fill="#ff0000"/>
<circle cx="75.2" cy="309.3" r="1.5" fill="#ff0000"/>
<circle cx="43.5" cy="310.1" r="1.5" fill="#ff0000"/>
<circle cx="47.4" cy="317" r="1.5" fill="#ff0000"/>
<circle cx="49" cy="318.6" r="1.5" fill="#ff0000"/>
<circle cx="52.5" cy="320.1" r="1.5" fill="#ff0000"/>
<circle cx="66" cy="319.1" r="1.5" fill="#ff0000"/>
<circle cx="62.9" cy="314" r="1.5" fill="#ff0000"/>
<circle cx="72.9" cy="322.5" r="1.5" fill="#ff0000"/>
<circle cx="71.4" cy="326.3" r="1.5" fill="#ff0000"/>
<circle cx="93" cy="322.5" r="1.5" fill="#ff0000"/>
<circle cx="88.4" cy="324" r="1.5" fill="#ff0000"/>
<circle cx="97.6" cy="315.5" r="1.5" fill="#ff0000"/>
<circle cx="100.7" cy="312.4" r="1.5" fill="#ff0000"/>
<circle cx="104.9" cy="306.2" r="1.5" fill="#ff0000"/>
<circle cx="106.9" cy="313.2" r="1.5" fill="#ff0000"/>
<circle cx="36.6" cy="327.1" r="1.5" fill="#ff0000"/>
<circle cx="41.2" cy="327.1" r="1.5" fill="#ff0000"/>
<circle cx="42" cy="329.4" r="1.5" fill="#ff0000"/>
<circle cx="55.9" cy="328.6" r="1.5" fill="#ff0000"/>
<circle cx="69.8" cy="329.4" r="1.5" fill="#ff0000"/>
<circle cx="73.7" cy="330.2" r="1.5" fill="#ff0000"/>
<circle cx="78.3" cy="325.5" r="1.5" fill="#ff0000"/>
<circle cx="99.2" cy="328.6" r="1.5" fill="#ff0000"/>
<circle cx="91.5" cy="331" r="1.5" fill="#ff0000"/>
<circle cx="123" cy="298.5" r="1.5" fill="#ff0000"/>
<circle cx="126.1" cy="301.9" r="1.5" fill="#ff0000"/>
<circle cx="171.9" cy="297.4" r="1.5" fill="#ff0000"/>
<circle cx="159.4" cy="305.5" r="1.5" fill="#ff0000"/>
<circle cx="190.7" cy="305.9" r="1.5" fill="#ff0000"/>
<circle cx="152.1" cy="309.8" r="1.5" fill="#ff0000"/>
<circle cx="154.4" cy="312.9" r="1.5" fill="#ff0000"/>
<circle cx="154.9" cy="317.5" r="1.5" fill="#ff0000"/>
<circle cx="115" cy="306.2" r="1.5" fill="#ff0000"/>
<circle cx="115" cy="311.6" r="1.5" fill="#ff0000"/>
<circle cx="128.6" cy="316" r="1.5" fill="#ff0000"/>
<circle cx="135.9" cy="318.3" r="1.5" fill="#ff0000"/>
<circle cx="121.5" cy="320.1" r="1.5" fill="#ff0000"/>
<circle cx="131.2" cy="320.9" r="1.5" fill="#ff0000"/>
<circle cx="143.6" cy="320.6" r="1.5" fill="#ff0000"/>
<circle cx="144.4" cy="322.8" r="1.5" fill="#ff0000"/>
<circle cx="147.9" cy="322.5" r="1.5" fill="#ff0000"/>
<circle cx="137.9" cy="323.7" r="1.5" fill="#ff0000"/>
<circle cx="132" cy="326.8" r="1.5" fill="#ff0000"/>
<circle cx="156.7" cy="323.2" r="1.5" fill="#ff0000"/>
<circle cx="160.9" cy="323.2" r="1.5" fill="#ff0000"/>
<circle cx="187.6" cy="319.7" r="1.5" fill="#ff0000"/>
<circle cx="190.3" cy="316.6" r="1.5" fill="#ff0000"/>
<circle cx="117.3" cy="325.2" r="1.5" fill="#ff0000"/>
<circle cx="145.9" cy="327.1" r="1.5" fill="#ff0000"/>
<circle cx="152.1" cy="329.4" r="1.5" fill="#ff0000"/>
<circle cx="160.1" cy="331" r="1.5" fill="#ff0000"/>
<circle cx="166.8" cy="327.1" r="1.5" fill="#ff0000"/>
<circle cx="173" cy="328.3" r="1.5" fill="#ff0000"/>
<circle cx="183" cy="327.9" r="1.5" fill="#ff0000"/>
<circle cx="186.9" cy="327.1" r="1.5" fill="#ff0000"/>
<circle cx="188.4" cy="325.2" r="1.5" fill="#ff0000"/>
<circle cx="190.7" cy="331" r="1.5" fill="#ff0000"/>
<circle cx="195.4" cy="331.7" r="1.5" fill="#ff0000"/>
<circle cx="196.9" cy="331" r="1.5" fill="#ff0000"/>
<circle cx="162.9" cy="331.7" r="1.5" fill="#ff0000"/>
<circle cx="169.9" cy="330.2" r="1.5" fill="#ff0000"/>
<circle cx="61.3" cy="253.8" r="1.5" fill="#0000ff"/>
<circle cx="40" cy="282.9" r="1.5" fill="#0000ff"/>
<circle cx="61.6" cy="290.9" r="1.5" fill="#0000ff"/>
<circle cx="57.8" cy="292.9" r="1.5" fill="#0000ff"/>
<circle cx="34.3" cy="298.6" r="1.5" fill="#0000ff"/>
<circle cx="96.1" cy="247.3" r="1.5" fill="#0000ff"/>
<circle cx="92" cy="292.1" r="1.5" fill="#0000ff"/>
<circle cx="93.8" cy="293.7" r="1.5" fill="#0000ff"/>
<circle cx="116.7" cy="294.5" r="1.5" fill="#0000ff"/>
<circle cx="121" cy="301" r="1.5" fill="#0000ff"/>
<circle cx="163.2" cy="291.2" r="1.5" fill="#0000ff"/>
<circle cx="161.7" cy="301.4" r="1.5" fill="#0000ff"/>
<circle cx="57.5" cy="293.1" r="1.5" fill="#0000ff"/>
<circle cx="61.3" cy="291.2" r="1.5" fill="#0000ff"/>
<circle cx="34.3" cy="298.8" r="1.5" fill="#0000ff"/>
<circle cx="38.6" cy="304.7" r="1.5" fill="#0000ff"/>
<circle cx="50.5" cy="305" r="1.5" fill="#0000ff"/>
<circle cx="55.1" cy="304.7" r="1.5" fill="#0000ff"/>
<circle cx="92.2" cy="292.3" r="1.5" fill="#0000ff"/>
<circle cx="93.5" cy="293.9" r="1.5" fill="#0000ff"/>
<circle cx="45.1" cy="314" r="1.5" fill="#0000ff"/>
<circle cx="46.6" cy="314.7" r="1.5" fill="#0000ff"/>
<circle cx="62.9" cy="313.5" r="1.5" fill="#0000ff"/>
<circle cx="72.1" cy="307.3" r="1.5" fill="#0000ff"/>
<circle cx="71.8" cy="312.7" r="1.5" fill="#0000ff"/>
<circle cx="79.1" cy="313.2" r="1.5" fill="#0000ff"/>
<circle cx="81.9" cy="308.1" r="1.5" fill="#0000ff"/>
<circle cx="32.4" cy="322.1" r="1.5" fill="#0000ff"/>
<circle cx="32" cy="327.1" r="1.5" fill="#0000ff"/>
<circle cx="45.9" cy="320.1" r="1.5" fill="#0000ff"/>
<circle cx="57.5" cy="318.6" r="1.5" fill="#0000ff"/>
<circle cx="60.2" cy="318.6" r="1.5" fill="#0000ff"/>
<circle cx="54.4" cy="323.2" r="1.5" fill="#0000ff"/>
<circle cx="52.8" cy="325.5" r="1.5" fill="#0000ff"/>
<circle cx="49.7" cy="327.1" r="1.5" fill="#0000ff"/>
<circle cx="39.7" cy="327.1" r="1.5" fill="#0000ff"/>
<circle cx="38.1" cy="328.6" r="1.5" fill="#0000ff"/>
<circle cx="58.2" cy="327.9" r="1.5" fill="#0000ff"/>
<circle cx="84.5" cy="319.4" r="1.5" fill="#0000ff"/>
<circle cx="88.4" cy="321.7" r="1.5" fill="#0000ff"/>
<circle cx="89.9" cy="322.5" r="1.5" fill="#0000ff"/>
<circle cx="97.6" cy="317.8" r="1.5" fill="#0000ff"/>
<circle cx="100" cy="316.3" r="1.5" fill="#0000ff"/>
<circle cx="105.4" cy="310.9" r="1.5" fill="#0000ff"/>
<circle cx="104.6" cy="312.4" r="1.5" fill="#0000ff"/>
<circle cx="109.2" cy="319.4" r="1.5" fill="#0000ff"/>
<circle cx="112.3" cy="314.7" r="1.5" fill="#0000ff"/>
<circle cx="110.8" cy="324.8" r="1.5" fill="#0000ff"/>
<circle cx="100.7" cy="322.5" r="1.5" fill="#0000ff"/>
<circle cx="96.1" cy="327.1" r="1.5" fill="#0000ff"/>
<circle cx="105.4" cy="317.8" r="1.5" fill="#0000ff"/>
<circle cx="74.5" cy="320.9" r="1.5" fill="#0000ff"/>
<circle cx="77.6" cy="323.2" r="1.5" fill="#0000ff"/>
<circle cx="79.9" cy="324.8" r="1.5" fill="#0000ff"/>
<circle cx="76" cy="326.3" r="1.5" fill="#0000ff"/>
<circle cx="83.7" cy="323.2" r="1.5" fill="#0000ff"/>
<circle cx="69" cy="332.5" r="1.5" fill="#0000ff"/>
<circle cx="65.2" cy="332.5" r="1.5" fill="#0000ff"/>
<circle cx="42" cy="331.7" r="1.5" fill="#0000ff"/>
<circle cx="40.5" cy="332.5" r="1.5" fill="#0000ff"/>
<circle cx="32.7" cy="335.6" r="1.5" fill="#0000ff"/>
<circle cx="116.5" cy="294.6" r="1.5" fill="#0000ff"/>
<circle cx="120.9" cy="301.1" r="1.5" fill="#0000ff"/>
<circle cx="163.7" cy="291.2" r="1.5" fill="#0000ff"/>
<circle cx="161.7" cy="301.6" r="1.5" fill="#0000ff"/>
<circle cx="165.2" cy="307.8" r="1.5" fill="#0000ff"/>
<circle cx="174.5" cy="308.2" r="1.5" fill="#0000ff"/>
<circle cx="150.9" cy="309.3" r="1.5" fill="#0000ff"/>
<circle cx="149.3" cy="314" r="1.5" fill="#0000ff"/>
<circle cx="158" cy="314.3" r="1.5" fill="#0000ff"/>
<circle cx="170.3" cy="313.5" r="1.5" fill="#0000ff"/>
<circle cx="168.3" cy="317.4" r="1.5" fill="#0000ff"/>
<circle cx="179.1" cy="319.7" r="1.5" fill="#0000ff"/>
<circle cx="193.8" cy="323.2" r="1.5" fill="#0000ff"/>
<circle cx="124.3" cy="319.4" r="1.5" fill="#0000ff"/>
<circle cx="126.6" cy="318.6" r="1.5" fill="#0000ff"/>
<circle cx="127.4" cy="323.2" r="1.5" fill="#0000ff"/>
<circle cx="138.2" cy="320.9" r="1.5" fill="#0000ff"/>
<circle cx="139.7" cy="319.4" r="1.5" fill="#0000ff"/>
<circle cx="139" cy="327.9" r="1.5" fill="#0000ff"/>
<circle cx="122" cy="327.1" r="1.5" fill="#0000ff"/>
<circle cx="119.6" cy="329.4" r="1.5" fill="#0000ff"/>
<circle cx="132" cy="329.4" r="1.5" fill="#0000ff"/>
<circle cx="153.6" cy="327.1" r="1.5" fill="#0000ff"/>
<circle cx="154.4" cy="331" r="1.5" fill="#0000ff"/>
<circle cx="177.6" cy="326.3" r="1.5" fill="#0000ff"/>
<circle cx="176.8" cy="329.4" r="1.5" fill="#0000ff"/>
<circle cx="181.5" cy="330.2" r="1.5" fill="#0000ff"/>
<circle cx="31.4" cy="251.3" r="1.8" fill="#ff0000"/>
<circle cx="31.4" cy="259.2" r="1.8" fill="#0000ff"/>
<text x="0" y="0" transform="translate(37.4 253.6) scale(0.8 1)" font-family='"Liberation Serif", serif' font-size="7.875" text-anchor="start" fill="#000" stroke="#000" stroke-width="0.15">Dead</text>
<text x="0" y="0" transform="translate(37.4 261.6) scale(0.8 1)" font-family='"Liberation Serif", serif' font-size="7.875" text-anchor="start" fill="#000" stroke="#000" stroke-width="0.15">Alive</text>
<text x="0" y="0" transform="translate(280.4 235.1) scale(0.8333 1)" font-family='"Liberation Serif", serif' font-size="5.58" text-anchor="end" fill="#000" stroke="#000" stroke-width="0.24">pvalue</text>
<text x="0" y="0" transform="translate(332.1 235.1) scale(0.8333 1)" font-family='"Liberation Serif", serif' font-size="5.58" text-anchor="end" fill="#000" stroke="#000" stroke-width="0.24">Hazard ratio</text>
<text x="0" y="0" transform="translate(235.5 252.6) scale(0.8333 1)" font-family='"Liberation Serif", serif' font-size="5.58" text-anchor="start" fill="#000" stroke="#000" stroke-width="0.24">gender</text>
<text x="0" y="0" transform="translate(280.4 252.6) scale(0.8696 1)" font-family='"Liberation Serif", serif' font-size="5.348" text-anchor="end" font-weight="bold" fill="#000" stroke="#000" stroke-width="0.1">0.918</text>
<text x="0" y="0" transform="translate(332.1 252.6) scale(0.8696 1)" font-family='"Liberation Serif", serif' font-size="5.348" text-anchor="end" font-weight="bold" fill="#000" stroke="#000" stroke-width="0.1">1.015(0.770-1.338)</text>
<text x="0" y="0" transform="translate(235.5 270.48) scale(0.8333 1)" font-family='"Liberation Serif", serif' font-size="5.58" text-anchor="start" fill="#000" stroke="#000" stroke-width="0.24">age</text>
<text x="0" y="0" transform="translate(280.4 270.48) scale(0.8696 1)" font-family='"Liberation Serif", serif' font-size="5.348" text-anchor="end" font-weight="bold" fill="#000" stroke="#000" stroke-width="0.1">0.043</text>
<text x="0" y="0" transform="translate(332.1 270.48) scale(0.8696 1)" font-family='"Liberation Serif", serif' font-size="5.348" text-anchor="end" font-weight="bold" fill="#000" stroke="#000" stroke-width="0.1">1.016(1.000-1.033)</text>
<text x="0" y="0" transform="translate(235.5 288.36) scale(0.8333 1)" font-family='"Liberation Serif", serif' font-size="5.58" text-anchor="start" fill="#000" stroke="#000" stroke-width="0.24">stage</text>
<text x="0" y="0" transform="translate(280.4 288.36) scale(0.8696 1)" font-family='"Liberation Serif", serif' font-size="5.348" text-anchor="end" font-weight="bold" fill="#000" stroke="#000" stroke-width="0.1">&lt;0.001</text>
<text x="0" y="0" transform="translate(332.1 288.36) scale(0.8696 1)" font-family='"Liberation Serif", serif' font-size="5.348" text-anchor="end" font-weight="bold" fill="#000" stroke="#000" stroke-width="0.1">1.388(1.210-1.593)</text>
<text x="0" y="0" transform="translate(235.5 306.24) scale(0.8333 1)" font-family='"Liberation Serif", serif' font-size="5.58" text-anchor="start" fill="#000" stroke="#000" stroke-width="0.24">M</text>
<text x="0" y="0" transform="translate(280.4 306.24) scale(0.8696 1)" font-family='"Liberation Serif", serif' font-size="5.348" text-anchor="end" font-weight="bold" fill="#000" stroke="#000" stroke-width="0.1">0.132</text>
<text x="0" y="0" transform="translate(332.1 306.24) scale(0.8696 1)" font-family='"Liberation Serif", serif' font-size="5.348" text-anchor="end" font-weight="bold" fill="#000" stroke="#000" stroke-width="0.1">1.590(0.868-2.953)</text>
<text x="0" y="0" transform="translate(235.5 324.12) scale(0.8333 1)" font-family='"Liberation Serif", serif' font-size="5.58" text-anchor="start" fill="#000" stroke="#000" stroke-width="0.24">N</text>
<text x="0" y="0" transform="translate(280.4 324.12) scale(0.8696 1)" font-family='"Liberation Serif", serif' font-size="5.348" text-anchor="end" font-weight="bold" fill="#000" stroke="#000" stroke-width="0.1">&lt;0.001</text>
<text x="0" y="0" transform="translate(332.1 324.12) scale(0.8696 1)" font-family='"Liberation Serif", serif' font-size="5.348" text-anchor="end" font-weight="bold" fill="#000" stroke="#000" stroke-width="0.1">1.412(1.200-1.662)</text>
<text x="0" y="0" transform="translate(235.5 342) scale(0.8333 1)" font-family='"Liberation Serif", serif' font-size="5.58" text-anchor="start" fill="#000" stroke="#000" stroke-width="0.24">T</text>
<text x="0" y="0" transform="translate(280.4 342) scale(0.8696 1)" font-family='"Liberation Serif", serif' font-size="5.348" text-anchor="end" font-weight="bold" fill="#000" stroke="#000" stroke-width="0.1">0.001</text>
<text x="0" y="0" transform="translate(332.1 342) scale(0.8696 1)" font-family='"Liberation Serif", serif' font-size="5.348" text-anchor="end" font-weight="bold" fill="#000" stroke="#000" stroke-width="0.1">1.315(1.113-1.554)</text>
<text x="0" y="0" transform="translate(235.5 359.88) scale(0.8333 1)" font-family='"Liberation Serif", serif' font-size="5.58" text-anchor="start" fill="#000" stroke="#000" stroke-width="0.24">riskScore</text>
<text x="0" y="0" transform="translate(280.4 359.88) scale(0.8696 1)" font-family='"Liberation Serif", serif' font-size="5.348" text-anchor="end" font-weight="bold" fill="#000" stroke="#000" stroke-width="0.1">&lt;0.001</text>
<text x="0" y="0" transform="translate(332.1 359.88) scale(0.8696 1)" font-family='"Liberation Serif", serif' font-size="5.348" text-anchor="end" font-weight="bold" fill="#000" stroke="#000" stroke-width="0.1">4.504(2.791-7.268)</text>
<line x1="362.44" y1="229.3" x2="362.44" y2="363.3" stroke="#3a3a3a" stroke-width="1.15" stroke-dasharray="3.3,2.2"/>
<line x1="359.49" y1="251.3" x2="366.78" y2="251.3" stroke="#232f88" stroke-width="1.0"/>
<line x1="359.49" y1="249.2" x2="359.49" y2="253.4" stroke="#232f88" stroke-width="0.9"/>
<line x1="366.78" y1="249.2" x2="366.78" y2="253.4" stroke="#232f88" stroke-width="0.9"/>
<rect x="360.93" y="249.6" width="3.4" height="3.4" fill="#ff0000" stroke="none" stroke-width="1"/>
<line x1="362.44" y1="269.18" x2="362.86" y2="269.18" stroke="#232f88" stroke-width="1.0"/>
<line x1="362.44" y1="267.08" x2="362.44" y2="271.28" stroke="#232f88" stroke-width="0.9"/>
<line x1="362.86" y1="267.08" x2="362.86" y2="271.28" stroke="#232f88" stroke-width="0.9"/>
<rect x="360.95" y="267.48" width="3.4" height="3.4" fill="#ff0000" stroke="none" stroke-width="1"/>
<line x1="365.14" y1="287.06" x2="370.05" y2="287.06" stroke="#232f88" stroke-width="1.0"/>
<line x1="365.14" y1="284.96" x2="365.14" y2="289.16" stroke="#232f88" stroke-width="0.9"/>
<line x1="370.05" y1="284.96" x2="370.05" y2="289.16" stroke="#232f88" stroke-width="0.9"/>
<rect x="365.72" y="285.36" width="3.4" height="3.4" fill="#ff0000" stroke="none" stroke-width="1"/>
<line x1="360.75" y1="304.94" x2="387.52" y2="304.94" stroke="#232f88" stroke-width="1.0"/>
<line x1="360.75" y1="302.84" x2="360.75" y2="307.04" stroke="#232f88" stroke-width="0.9"/>
<line x1="387.52" y1="302.84" x2="387.52" y2="307.04" stroke="#232f88" stroke-width="0.9"/>
<rect x="368.32" y="303.24" width="3.4" height="3.4" fill="#ff0000" stroke="none" stroke-width="1"/>
<line x1="365.01" y1="322.82" x2="370.94" y2="322.82" stroke="#232f88" stroke-width="1.0"/>
<line x1="365.01" y1="320.72" x2="365.01" y2="324.92" stroke="#232f88" stroke-width="0.9"/>
<line x1="370.94" y1="320.72" x2="370.94" y2="324.92" stroke="#232f88" stroke-width="0.9"/>
<rect x="366.03" y="321.12" width="3.4" height="3.4" fill="#ff0000" stroke="none" stroke-width="1"/>
<line x1="363.89" y1="340.7" x2="369.55" y2="340.7" stroke="#232f88" stroke-width="1.0"/>
<line x1="363.89" y1="338.6" x2="363.89" y2="342.8" stroke="#232f88" stroke-width="0.9"/>
<line x1="369.55" y1="338.6" x2="369.55" y2="342.8" stroke="#232f88" stroke-width="0.9"/>
<rect x="364.78" y="339" width="3.4" height="3.4" fill="#ff0000" stroke="none" stroke-width="1"/>
<line x1="385.44" y1="358.58" x2="442.92" y2="358.58" stroke="#232f88" stroke-width="1.0"/>
<line x1="385.44" y1="356.48" x2="385.44" y2="360.68" stroke="#232f88" stroke-width="0.9"/>
<line x1="442.92" y1="356.48" x2="442.92" y2="360.68" stroke="#232f88" stroke-width="0.9"/>
<rect x="405.73" y="356.88" width="3.4" height="3.4" fill="#ff0000" stroke="none" stroke-width="1"/>
<line x1="349.6" y1="363.3" x2="439.48" y2="363.3" stroke="#222" stroke-width="0.85"/>
<line x1="349.6" y1="363.3" x2="349.6" y2="366.9" stroke="#222" stroke-width="0.85"/>
<text x="349.6" y="373.9" font-family='"Liberation Serif", serif' font-size="6.5" text-anchor="middle" fill="#000" stroke="#000" stroke-width="0.15">0</text>
<line x1="362.44" y1="363.3" x2="362.44" y2="366.9" stroke="#222" stroke-width="0.85"/>
<text x="362.44" y="373.9" font-family='"Liberation Serif", serif' font-size="6.5" text-anchor="middle" fill="#000" stroke="#000" stroke-width="0.15">1</text>
<line x1="375.28" y1="363.3" x2="375.28" y2="366.9" stroke="#222" stroke-width="0.85"/>
<text x="375.28" y="373.9" font-family='"Liberation Serif", serif' font-size="6.5" text-anchor="middle" fill="#000" stroke="#000" stroke-width="0.15">2</text>
<line x1="388.12" y1="363.3" x2="388.12" y2="366.9" stroke="#222" stroke-width="0.85"/>
<text x="388.12" y="373.9" font-family='"Liberation Serif", serif' font-size="6.5" text-anchor="middle" fill="#000" stroke="#000" stroke-width="0.15">3</text>
<line x1="400.96" y1="363.3" x2="400.96" y2="366.9" stroke="#222" stroke-width="0.85"/>
<text x="400.96" y="373.9" font-family='"Liberation Serif", serif' font-size="6.5" text-anchor="middle" fill="#000" stroke="#000" stroke-width="0.15">4</text>
<line x1="413.8" y1="363.3" x2="413.8" y2="366.9" stroke="#222" stroke-width="0.85"/>
<text x="413.8" y="373.9" font-family='"Liberation Serif", serif' font-size="6.5" text-anchor="middle" fill="#000" stroke="#000" stroke-width="0.15">5</text>
<line x1="426.64" y1="363.3" x2="426.64" y2="366.9" stroke="#222" stroke-width="0.85"/>
<text x="426.64" y="373.9" font-family='"Liberation Serif", serif' font-size="6.5" text-anchor="middle" fill="#000" stroke="#000" stroke-width="0.15">6</text>
<line x1="439.48" y1="363.3" x2="439.48" y2="366.9" stroke="#222" stroke-width="0.85"/>
<text x="439.48" y="373.9" font-family='"Liberation Serif", serif' font-size="6.5" text-anchor="middle" fill="#000" stroke="#000" stroke-width="0.15">7</text>
<text x="0" y="0" transform="translate(396.2 384.6) scale(0.8696 1)" font-family='"Liberation Serif", serif' font-size="8.027" text-anchor="middle" fill="#000" stroke="#000" stroke-width="0.15">Hazard ratio</text>
<text x="0" y="0" transform="translate(514.2 231.7) scale(0.8333 1)" font-family='"Liberation Serif", serif' font-size="5.88" text-anchor="end" fill="#000" stroke="#000" stroke-width="0.24">pvalue</text>
<text x="0" y="0" transform="translate(568.8 231.7) scale(0.8333 1)" font-family='"Liberation Serif", serif' font-size="5.88" text-anchor="end" fill="#000" stroke="#000" stroke-width="0.24">Hazard ratio</text>
<text x="0" y="0" transform="translate(466.8 257.7) scale(0.8333 1)" font-family='"Liberation Serif", serif' font-size="5.88" text-anchor="start" fill="#000" stroke="#000" stroke-width="0.24">age</text>
<text x="0" y="0" transform="translate(514.2 257.7) scale(0.8696 1)" font-family='"Liberation Serif", serif' font-size="5.635" text-anchor="end" font-weight="bold" fill="#000" stroke="#000" stroke-width="0.1">0.010</text>
<text x="0" y="0" transform="translate(568.8 257.7) scale(0.8913 1)" font-family='"Liberation Serif", serif' font-size="5.635" text-anchor="end" font-weight="bold" fill="#000" stroke="#000" stroke-width="0.1">1.022(1.005-1.039)</text>
<text x="0" y="0" transform="translate(466.8 283.9) scale(0.8333 1)" font-family='"Liberation Serif", serif' font-size="5.88" text-anchor="start" fill="#000" stroke="#000" stroke-width="0.24">stage</text>
<text x="0" y="0" transform="translate(514.2 283.9) scale(0.8696 1)" font-family='"Liberation Serif", serif' font-size="5.635" text-anchor="end" font-weight="bold" fill="#000" stroke="#000" stroke-width="0.1">0.061</text>
<text x="0" y="0" transform="translate(568.8 283.9) scale(0.8913 1)" font-family='"Liberation Serif", serif' font-size="5.635" text-anchor="end" font-weight="bold" fill="#000" stroke="#000" stroke-width="0.1">1.244(0.990-1.563)</text>
<text x="0" y="0" transform="translate(466.8 310.1) scale(0.8333 1)" font-family='"Liberation Serif", serif' font-size="5.88" text-anchor="start" fill="#000" stroke="#000" stroke-width="0.24">N</text>
<text x="0" y="0" transform="translate(514.2 310.1) scale(0.8696 1)" font-family='"Liberation Serif", serif' font-size="5.635" text-anchor="end" font-weight="bold" fill="#000" stroke="#000" stroke-width="0.1">0.259</text>
<text x="0" y="0" transform="translate(568.8 310.1) scale(0.8913 1)" font-family='"Liberation Serif", serif' font-size="5.635" text-anchor="end" font-weight="bold" fill="#000" stroke="#000" stroke-width="0.1">1.143(0.906-1.440)</text>
<text x="0" y="0" transform="translate(466.8 336.3) scale(0.8333 1)" font-family='"Liberation Serif", serif' font-size="5.88" text-anchor="start" fill="#000" stroke="#000" stroke-width="0.24">T</text>
<text x="0" y="0" transform="translate(514.2 336.3) scale(0.8696 1)" font-family='"Liberation Serif", serif' font-size="5.635" text-anchor="end" font-weight="bold" fill="#000" stroke="#000" stroke-width="0.1">0.437</text>
<text x="0" y="0" transform="translate(568.8 336.3) scale(0.8913 1)" font-family='"Liberation Serif", serif' font-size="5.635" text-anchor="end" font-weight="bold" fill="#000" stroke="#000" stroke-width="0.1">1.081(0.888-1.315)</text>
<text x="0" y="0" transform="translate(466.8 362.5) scale(0.8333 1)" font-family='"Liberation Serif", serif' font-size="5.88" text-anchor="start" fill="#000" stroke="#000" stroke-width="0.24">riskScore</text>
<text x="0" y="0" transform="translate(514.2 362.5) scale(0.8696 1)" font-family='"Liberation Serif", serif' font-size="5.635" text-anchor="end" font-weight="bold" fill="#000" stroke="#000" stroke-width="0.1">&lt;0.001</text>
<text x="0" y="0" transform="translate(568.8 362.5) scale(0.8913 1)" font-family='"Liberation Serif", serif' font-size="5.635" text-anchor="end" font-weight="bold" fill="#000" stroke="#000" stroke-width="0.1">3.887(2.421-6.239)</text>
<line x1="602.62" y1="227" x2="602.62" y2="366" stroke="#3a3a3a" stroke-width="1.15" stroke-dasharray="3.3,2.2"/>
<line x1="602.7" y1="256.4" x2="603.23" y2="256.4" stroke="#232f88" stroke-width="1.0"/>
<line x1="602.7" y1="254.3" x2="602.7" y2="258.5" stroke="#232f88" stroke-width="0.9"/>
<line x1="603.23" y1="254.3" x2="603.23" y2="258.5" stroke="#232f88" stroke-width="0.9"/>
<rect x="601.27" y="254.7" width="3.4" height="3.4" fill="#ff0000" stroke="none" stroke-width="1"/>
<line x1="602.46" y1="282.6" x2="611.47" y2="282.6" stroke="#232f88" stroke-width="1.0"/>
<line x1="602.46" y1="280.5" x2="602.46" y2="284.7" stroke="#232f88" stroke-width="0.9"/>
<line x1="611.47" y1="280.5" x2="611.47" y2="284.7" stroke="#232f88" stroke-width="0.9"/>
<rect x="604.76" y="280.9" width="3.4" height="3.4" fill="#ff0000" stroke="none" stroke-width="1"/>
<line x1="601.14" y1="308.8" x2="609.54" y2="308.8" stroke="#232f88" stroke-width="1.0"/>
<line x1="601.14" y1="306.7" x2="601.14" y2="310.9" stroke="#232f88" stroke-width="0.9"/>
<line x1="609.54" y1="306.7" x2="609.54" y2="310.9" stroke="#232f88" stroke-width="0.9"/>
<rect x="603.17" y="307.1" width="3.4" height="3.4" fill="#ff0000" stroke="none" stroke-width="1"/>
<line x1="600.86" y1="335" x2="607.57" y2="335" stroke="#232f88" stroke-width="1.0"/>
<line x1="600.86" y1="332.9" x2="600.86" y2="337.1" stroke="#232f88" stroke-width="0.9"/>
<line x1="607.57" y1="332.9" x2="607.57" y2="337.1" stroke="#232f88" stroke-width="0.9"/>
<rect x="602.19" y="333.3" width="3.4" height="3.4" fill="#ff0000" stroke="none" stroke-width="1"/>
<line x1="624.96" y1="361.2" x2="684.98" y2="361.2" stroke="#232f88" stroke-width="1.0"/>
<line x1="624.96" y1="359.1" x2="624.96" y2="363.3" stroke="#232f88" stroke-width="0.9"/>
<line x1="684.98" y1="359.1" x2="684.98" y2="363.3" stroke="#232f88" stroke-width="0.9"/>
<rect x="646.3" y="359.5" width="3.4" height="3.4" fill="#ff0000" stroke="none" stroke-width="1"/>
<line x1="586.9" y1="366" x2="681.22" y2="366" stroke="#222" stroke-width="0.85"/>
<line x1="586.9" y1="366" x2="586.9" y2="369.6" stroke="#222" stroke-width="0.85"/>
<text x="586.9" y="379.2" font-family='"Liberation Serif", serif' font-size="7.2" text-anchor="middle" fill="#000" stroke="#000" stroke-width="0.15">0</text>
<line x1="602.62" y1="366" x2="602.62" y2="369.6" stroke="#222" stroke-width="0.85"/>
<text x="602.62" y="379.2" font-family='"Liberation Serif", serif' font-size="7.2" text-anchor="middle" fill="#000" stroke="#000" stroke-width="0.15">1</text>
<line x1="618.34" y1="366" x2="618.34" y2="369.6" stroke="#222" stroke-width="0.85"/>
<text x="618.34" y="379.2" font-family='"Liberation Serif", serif' font-size="7.2" text-anchor="middle" fill="#000" stroke="#000" stroke-width="0.15">2</text>
<line x1="634.06" y1="366" x2="634.06" y2="369.6" stroke="#222" stroke-width="0.85"/>
<text x="634.06" y="379.2" font-family='"Liberation Serif", serif' font-size="7.2" text-anchor="middle" fill="#000" stroke="#000" stroke-width="0.15">3</text>
<line x1="649.78" y1="366" x2="649.78" y2="369.6" stroke="#222" stroke-width="0.85"/>
<text x="649.78" y="379.2" font-family='"Liberation Serif", serif' font-size="7.2" text-anchor="middle" fill="#000" stroke="#000" stroke-width="0.15">4</text>
<line x1="665.5" y1="366" x2="665.5" y2="369.6" stroke="#222" stroke-width="0.85"/>
<text x="665.5" y="379.2" font-family='"Liberation Serif", serif' font-size="7.2" text-anchor="middle" fill="#000" stroke="#000" stroke-width="0.15">5</text>
<line x1="681.22" y1="366" x2="681.22" y2="369.6" stroke="#222" stroke-width="0.85"/>
<text x="681.22" y="379.2" font-family='"Liberation Serif", serif' font-size="7.2" text-anchor="middle" fill="#000" stroke="#000" stroke-width="0.15">6</text>
<text x="636.4" y="387.6" font-family='"Liberation Serif", serif' font-size="7.57" text-anchor="middle" fill="#000" stroke="#000" stroke-width="0.15">Hazard ratio</text>
</svg>
</body></html>
